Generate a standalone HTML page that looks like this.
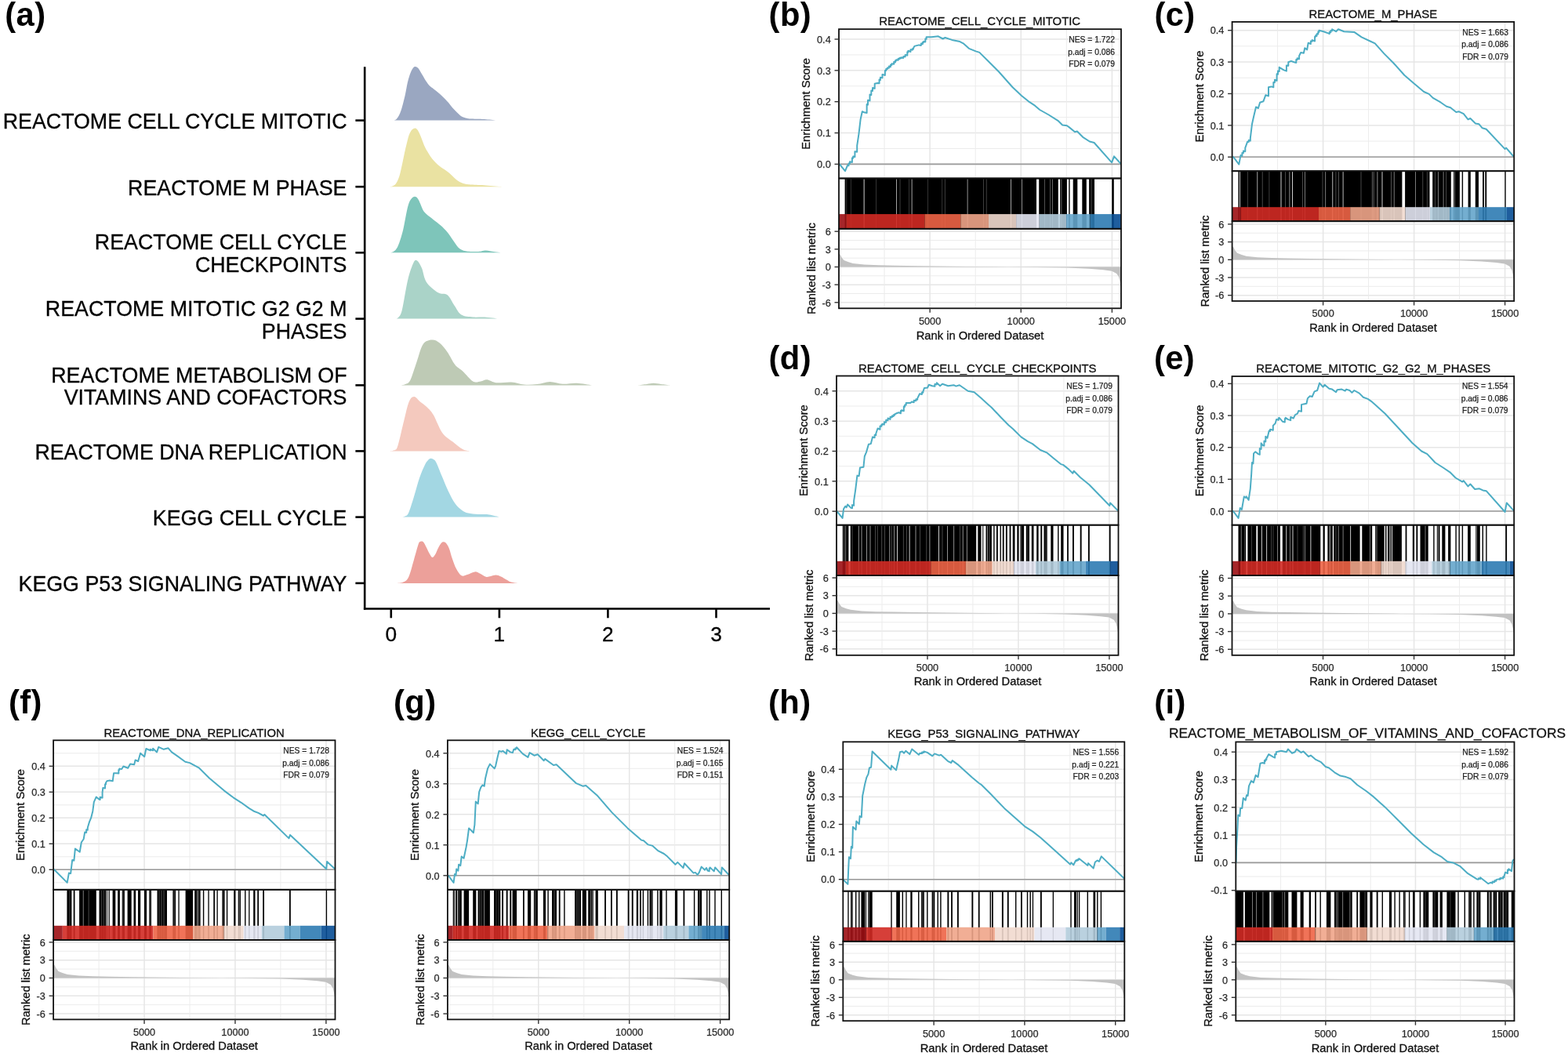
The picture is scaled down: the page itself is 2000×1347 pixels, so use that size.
<!DOCTYPE html>
<html><head><meta charset="utf-8"><title>GSEA figure</title>
<style>html,body{margin:0;padding:0;background:#fff;width:2000px;height:1347px;overflow:hidden}svg{display:block}</style>
</head><body>
<svg width="2000" height="1347" viewBox="0 0 2000 1347" font-family="'Liberation Sans', Arial, Helvetica, sans-serif">
<rect width="2000" height="1347" fill="#fff"/>
<text x="6.3" y="32.5" font-size="41.7" text-anchor="start" font-weight="bold" fill="#000" letter-spacing="0.4">(a)</text>
<text x="980.6" y="32.5" font-size="41.7" text-anchor="start" font-weight="bold" fill="#000" letter-spacing="0.4">(b)</text>
<text x="1472.4" y="32.8" font-size="41.7" text-anchor="start" font-weight="bold" fill="#000" letter-spacing="0.4">(c)</text>
<text x="980.5" y="470.8" font-size="41.7" text-anchor="start" font-weight="bold" fill="#000" letter-spacing="0.4">(d)</text>
<text x="1472" y="471.3" font-size="41.7" text-anchor="start" font-weight="bold" fill="#000" letter-spacing="0.4">(e)</text>
<text x="11" y="909.5" font-size="41.7" text-anchor="start" font-weight="bold" fill="#000" letter-spacing="0.4">(f)</text>
<text x="502" y="909.5" font-size="41.7" text-anchor="start" font-weight="bold" fill="#000" letter-spacing="0.4">(g)</text>
<text x="980" y="909.5" font-size="41.7" text-anchor="start" font-weight="bold" fill="#000" letter-spacing="0.4">(h)</text>
<text x="1472.2" y="909.5" font-size="41.7" text-anchor="start" font-weight="bold" fill="#000" letter-spacing="0.4">(i)</text>
<path d="M502.1,153.6 C502.58,153.43 503.92,153.57 505,152.6 C506.08,151.63 507.52,149.73 508.6,147.8 C509.68,145.87 510.58,143.63 511.5,141 C512.42,138.37 513.18,135.5 514.1,132 C515.02,128.5 516.07,124.33 517,120 C517.93,115.67 518.78,110 519.7,106 C520.62,102 521.57,98.78 522.5,96 C523.43,93.22 524.42,91 525.3,89.3 C526.18,87.6 527.03,86.52 527.8,85.8 C528.57,85.08 529.2,85 529.9,85 C530.6,85 531.23,85.23 532,85.8 C532.77,86.37 533.33,86.7 534.5,88.4 C535.67,90.1 537.45,93.38 539,96 C540.55,98.62 542.3,101.85 543.8,104.1 C545.3,106.35 546.45,107.95 548,109.5 C549.55,111.05 551.1,111.82 553.1,113.4 C555.1,114.98 557.53,116.83 560,119 C562.47,121.17 565.82,124.32 567.9,126.4 C569.98,128.48 570.95,129.65 572.5,131.5 C574.05,133.35 575.45,135.5 577.2,137.5 C578.95,139.5 581.15,141.72 583,143.5 C584.85,145.28 586.47,147.03 588.3,148.2 C590.13,149.37 591.83,149.93 594,150.5 C596.17,151.07 596.98,151.32 601.3,151.6 C605.62,151.88 614.33,151.87 619.9,152.2 C625.47,152.53 632.23,153.37 634.7,153.6 L634.7,153.6 L502.1,153.6 Z" fill="#9AA7C1"/>
<path d="M497.4,238.2 C498,238.05 499.77,237.92 501,237.3 C502.23,236.68 503.67,235.88 504.8,234.5 C505.93,233.12 506.87,231.25 507.8,229 C508.73,226.75 509.5,224.42 510.4,221 C511.3,217.58 512.27,212.83 513.2,208.5 C514.13,204.17 515.07,199.25 516,195 C516.93,190.75 517.88,186.7 518.8,183 C519.72,179.3 520.58,175.47 521.5,172.8 C522.42,170.13 523.37,168.43 524.3,167 C525.23,165.57 526.17,164.78 527.1,164.2 C528.03,163.62 529.08,163.37 529.9,163.5 C530.72,163.63 531.23,164.07 532,165 C532.77,165.93 533.5,167.02 534.5,169.1 C535.5,171.18 536.75,174.42 538,177.5 C539.25,180.58 540.58,184.6 542,187.6 C543.42,190.6 544.97,193.02 546.5,195.5 C548.03,197.98 549.62,200.45 551.2,202.5 C552.78,204.55 554.45,206.25 556,207.8 C557.55,209.35 559,210.6 560.5,211.8 C562,213 563.45,213.93 565,215 C566.55,216.07 568.22,217.03 569.8,218.2 C571.38,219.37 572.95,220.6 574.5,222 C576.05,223.4 577.6,225.22 579.1,226.6 C580.6,227.98 581.97,229.22 583.5,230.3 C585.03,231.38 586.55,232.35 588.3,233.1 C590.05,233.85 591.83,234.38 594,234.8 C596.17,235.22 596.98,235.32 601.3,235.6 C605.62,235.88 613.4,236.07 619.9,236.5 C626.4,236.93 636.9,237.92 640.3,238.2 L640.3,238.2 L497.4,238.2 Z" fill="#EAE2A2"/>
<path d="M498.4,322.2 C499.08,321.92 501.12,321.58 502.5,320.5 C503.88,319.42 505.37,318.12 506.7,315.7 C508.03,313.28 509.27,309.72 510.5,306 C511.73,302.28 513.02,297.9 514.1,293.4 C515.18,288.9 516.07,283.63 517,279 C517.93,274.37 518.87,269.1 519.7,265.6 C520.53,262.1 521.23,259.93 522,258 C522.77,256.07 523.5,255.08 524.3,254 C525.1,252.92 526.02,252.05 526.8,251.5 C527.58,250.95 528.25,250.68 529,250.7 C529.75,250.72 530.53,250.97 531.3,251.6 C532.07,252.23 532.82,253.18 533.6,254.5 C534.38,255.82 535.23,257.75 536,259.5 C536.77,261.25 537.45,263.33 538.2,265 C538.95,266.67 539.57,268.17 540.5,269.5 C541.43,270.83 542.47,271.78 543.8,273 C545.13,274.22 546.95,275.57 548.5,276.8 C550.05,278.03 551.55,279.2 553.1,280.4 C554.65,281.6 556.25,282.77 557.8,284 C559.35,285.23 561,286.55 562.4,287.8 C563.8,289.05 564.97,290.25 566.2,291.5 C567.43,292.75 568.58,293.88 569.8,295.3 C571.02,296.72 572.27,298.3 573.5,300 C574.73,301.7 575.95,303.67 577.2,305.5 C578.45,307.33 579.77,309.3 581,311 C582.23,312.7 583.27,314.4 584.6,315.7 C585.93,317 587.45,318.03 589,318.8 C590.55,319.57 592.07,319.95 593.9,320.3 C595.73,320.65 597.52,320.8 600,320.9 C602.48,321 606.47,320.98 608.8,320.9 C611.13,320.82 612.15,320.62 614,320.4 C615.85,320.18 618.07,319.62 619.9,319.6 C621.73,319.58 623.15,320.03 625,320.3 C626.85,320.57 628.75,320.88 631,321.2 C633.25,321.52 637.25,322.03 638.5,322.2 L638.5,322.2 L498.4,322.2 Z" fill="#7EC5BA"/>
<path d="M503.9,406.6 C504.58,406.33 506.52,406.83 508,405 C509.48,403.17 510.77,403.6 512.8,395.6 C514.83,387.6 517.73,367.15 520.2,357 C522.67,346.85 525.62,338.77 527.6,334.7 C529.58,330.63 530.37,331.37 532.1,332.6 C533.83,333.83 536.02,337.53 538,342.1 C539.98,346.67 540.53,354.8 544,360 C547.47,365.2 554.35,370.58 558.8,373.3 C563.25,376.02 567.23,373.57 570.7,376.3 C574.17,379.03 576.63,385.48 579.6,389.7 C582.57,393.92 584.55,399.13 588.5,401.6 C592.45,404.07 598.35,404.02 603.3,404.5 C608.25,404.98 612.75,404.15 618.2,404.5 C623.65,404.85 633.03,406.25 636,406.6 L636,406.6 L503.9,406.6 Z" fill="#AAD3C8"/>
<path d="M511.8,491.4 C512.67,491.17 515.08,491.08 517,490 C518.92,488.92 520.9,489.57 523.3,484.9 C525.7,480.23 528.68,469.62 531.4,462 C534.12,454.38 536.33,443.93 539.6,439.2 C542.87,434.47 547.47,433.87 551,433.6 C554.53,433.33 557.53,435.03 560.8,437.6 C564.07,440.17 567.33,444.38 570.6,449 C573.87,453.62 577.13,461.22 580.4,465.3 C583.67,469.38 586.38,469.97 590.2,473.5 C594.02,477.03 599.48,484.33 603.3,486.5 C607.12,488.67 610.1,486.87 613.1,486.5 C616.1,486.13 618.03,484.02 621.3,484.3 C624.57,484.58 627.53,487.67 632.7,488.2 C637.87,488.73 646.32,487.1 652.3,487.5 C658.28,487.9 663.15,490.17 668.6,490.6 C674.05,491.03 679.55,490.72 685,490.1 C690.45,489.48 695.87,486.95 701.3,486.9 C706.73,486.85 711.88,489.48 717.6,489.8 C723.32,490.12 729.33,488.53 735.6,488.8 C741.87,489.07 751.93,490.97 755.2,491.4 L755.2,491.4 L511.8,491.4 Z" fill="#BECAB5"/>
<path d="M813.9,491.4 C815.75,491.17 821.73,490.43 825,490 C828.27,489.57 830.5,488.8 833.5,488.8 C836.5,488.8 839.45,489.57 843,490 C846.55,490.43 852.83,491.17 854.8,491.4 L854.8,491.4 L813.9,491.4 Z" fill="#BECAB5"/>
<path d="M497.2,575.4 C498,575.25 500.37,575.43 502,574.5 C503.63,573.57 504.82,576.02 507,569.8 C509.18,563.58 512.67,546.72 515.1,537.2 C517.53,527.68 519.42,517.88 521.6,512.7 C523.78,507.52 525.75,506.1 528.2,506.1 C530.65,506.1 533.58,510.52 536.3,512.7 C539.02,514.88 541.77,516.48 544.5,519.2 C547.23,521.92 549.43,523.55 552.7,529 C555.97,534.45 560.02,546.18 564.1,551.9 C568.18,557.62 572.85,559.77 577.2,563.3 C581.55,566.83 586.57,571.08 590.2,573.1 C593.83,575.12 597.53,575.02 599,575.4 L599,575.4 L497.2,575.4 Z" fill="#F4C9BE"/>
<path d="M511,659.6 C511.83,659.47 514.33,659.63 516,658.8 C517.67,657.97 519,658.82 521,654.6 C523,650.38 525.65,641.02 528,633.5 C530.35,625.98 532.73,616.32 535.1,609.5 C537.47,602.68 540.38,596.35 542.2,592.6 C544.02,588.85 544.83,588.3 546,587 C547.17,585.7 548.12,585 549.2,584.8 C550.28,584.6 551.32,584.98 552.5,585.8 C553.68,586.62 554.48,586.22 556.3,589.7 C558.12,593.18 560.82,600.58 563.4,606.7 C565.98,612.82 568.98,620.53 571.8,626.4 C574.62,632.27 577.48,637.9 580.3,641.9 C583.12,645.9 585.88,648.28 588.7,650.4 C591.52,652.52 593.67,653.67 597.2,654.6 C600.73,655.53 605.43,655.7 609.9,656 C614.37,656.3 619.38,655.8 624,656.4 C628.62,657 635.33,659.07 637.6,659.6 L637.6,659.6 L511,659.6 Z" fill="#A3D7E3"/>
<path d="M507,743.9 C508.17,743.72 511.67,744.03 514,742.8 C516.33,741.57 518.67,741.32 521,736.5 C523.33,731.68 525.88,720.97 528,713.9 C530.12,706.83 532.37,697.92 533.7,694.1 C535.03,690.28 535.28,691.58 536,691 C536.72,690.42 537.25,690.43 538,690.6 C538.75,690.77 539.5,690.68 540.5,692 C541.5,693.32 542.75,696.08 544,698.5 C545.25,700.92 546.77,704.42 548,706.5 C549.23,708.58 550.23,710.83 551.4,711 C552.57,711.17 553.73,709.5 555,707.5 C556.27,705.5 557.67,701.5 559,699 C560.33,696.5 561.8,693.78 563,692.5 C564.2,691.22 565.12,691.13 566.2,691.3 C567.28,691.47 568.37,692.05 569.5,693.5 C570.63,694.95 571.75,696.75 573,700 C574.25,703.25 575.5,708.75 577,713 C578.5,717.25 580.05,721.95 582,725.5 C583.95,729.05 586.37,733.05 588.7,734.3 C591.03,735.55 593.17,733.82 596,733 C598.83,732.18 603.03,729.65 605.7,729.4 C608.37,729.15 609.65,730.43 612,731.5 C614.35,732.57 617.47,735.22 619.8,735.8 C622.13,736.38 623.88,735.37 626,735 C628.12,734.63 630.33,733.52 632.5,733.6 C634.67,733.68 636.75,734.52 639,735.5 C641.25,736.48 643.83,738.33 646,739.5 C648.17,740.67 649.58,741.77 652,742.5 C654.42,743.23 659.08,743.67 660.5,743.9 L660.5,743.9 L507,743.9 Z" fill="#ECA09A"/>
<line x1="465.2" y1="85.2" x2="465.2" y2="777.8" stroke="#000" stroke-width="2.6"/>
<line x1="463.9" y1="776.5" x2="982" y2="776.5" stroke="#000" stroke-width="2.6"/>
<line x1="453.4" y1="153.6" x2="465.2" y2="153.6" stroke="#000" stroke-width="2.6"/>
<text transform="matrix(0.982 0 0 1 442.5 163.9)" font-size="27.3" text-anchor="end" fill="#000" stroke="#000" stroke-width="0.3">REACTOME CELL CYCLE MITOTIC</text>
<line x1="453.4" y1="238.2" x2="465.2" y2="238.2" stroke="#000" stroke-width="2.6"/>
<text transform="matrix(0.982 0 0 1 442.5 248.5)" font-size="27.3" text-anchor="end" fill="#000" stroke="#000" stroke-width="0.3">REACTOME M PHASE</text>
<line x1="453.4" y1="322.3" x2="465.2" y2="322.3" stroke="#000" stroke-width="2.6"/>
<text transform="matrix(0.982 0 0 1 442.5 318.4)" font-size="27.3" text-anchor="end" fill="#000" stroke="#000" stroke-width="0.3">REACTOME CELL CYCLE</text>
<text transform="matrix(0.982 0 0 1 442.5 347.2)" font-size="27.3" text-anchor="end" fill="#000" stroke="#000" stroke-width="0.3">CHECKPOINTS</text>
<line x1="453.4" y1="406.6" x2="465.2" y2="406.6" stroke="#000" stroke-width="2.6"/>
<text transform="matrix(0.982 0 0 1 442.5 402.7)" font-size="27.3" text-anchor="end" fill="#000" stroke="#000" stroke-width="0.3">REACTOME MITOTIC G2 G2 M</text>
<text transform="matrix(0.982 0 0 1 442.5 431.5)" font-size="27.3" text-anchor="end" fill="#000" stroke="#000" stroke-width="0.3">PHASES</text>
<line x1="453.4" y1="491.4" x2="465.2" y2="491.4" stroke="#000" stroke-width="2.6"/>
<text transform="matrix(0.982 0 0 1 442.5 487.5)" font-size="27.3" text-anchor="end" fill="#000" stroke="#000" stroke-width="0.3">REACTOME METABOLISM OF</text>
<text transform="matrix(0.982 0 0 1 442.5 516.3)" font-size="27.3" text-anchor="end" fill="#000" stroke="#000" stroke-width="0.3">VITAMINS AND COFACTORS</text>
<line x1="453.4" y1="575.4" x2="465.2" y2="575.4" stroke="#000" stroke-width="2.6"/>
<text transform="matrix(0.982 0 0 1 442.5 585.7)" font-size="27.3" text-anchor="end" fill="#000" stroke="#000" stroke-width="0.3">REACTOME DNA REPLICATION</text>
<line x1="453.4" y1="659.6" x2="465.2" y2="659.6" stroke="#000" stroke-width="2.6"/>
<text transform="matrix(0.982 0 0 1 442.5 669.9)" font-size="27.3" text-anchor="end" fill="#000" stroke="#000" stroke-width="0.3">KEGG CELL CYCLE</text>
<line x1="453.4" y1="743.9" x2="465.2" y2="743.9" stroke="#000" stroke-width="2.6"/>
<text transform="matrix(0.982 0 0 1 442.5 754.2)" font-size="27.3" text-anchor="end" fill="#000" stroke="#000" stroke-width="0.3">KEGG P53 SIGNALING PATHWAY</text>
<line x1="498.8" y1="776.5" x2="498.8" y2="788.3" stroke="#000" stroke-width="2.6"/>
<text x="498.8" y="818.3" font-size="26.3" text-anchor="middle" font-weight="normal" fill="#000" stroke="#000" stroke-width="0.3">0</text>
<line x1="636.9" y1="776.5" x2="636.9" y2="788.3" stroke="#000" stroke-width="2.6"/>
<text x="636.9" y="818.3" font-size="26.3" text-anchor="middle" font-weight="normal" fill="#000" stroke="#000" stroke-width="0.3">1</text>
<line x1="775.4" y1="776.5" x2="775.4" y2="788.3" stroke="#000" stroke-width="2.6"/>
<text x="775.4" y="818.3" font-size="26.3" text-anchor="middle" font-weight="normal" fill="#000" stroke="#000" stroke-width="0.3">2</text>
<line x1="913.5" y1="776.5" x2="913.5" y2="788.3" stroke="#000" stroke-width="2.6"/>
<text x="913.5" y="818.3" font-size="26.3" text-anchor="middle" font-weight="normal" fill="#000" stroke="#000" stroke-width="0.3">3</text>
<rect x="1070" y="37.2" width="360" height="356.1" fill="#fff"/>
<clipPath id="clipb"><rect x="1070" y="37.2" width="360" height="190.3"/></clipPath>
<g clip-path="url(#clipb)">
<line x1="1070" y1="209.4" x2="1430" y2="209.4" stroke="#E6E6E6" stroke-width="1.5"/>
<line x1="1070" y1="189.47" x2="1430" y2="189.47" stroke="#ECECEC" stroke-width="1.0"/>
<line x1="1070" y1="169.55" x2="1430" y2="169.55" stroke="#E6E6E6" stroke-width="1.5"/>
<line x1="1070" y1="149.62" x2="1430" y2="149.62" stroke="#ECECEC" stroke-width="1.0"/>
<line x1="1070" y1="129.7" x2="1430" y2="129.7" stroke="#E6E6E6" stroke-width="1.5"/>
<line x1="1070" y1="109.78" x2="1430" y2="109.78" stroke="#ECECEC" stroke-width="1.0"/>
<line x1="1070" y1="89.85" x2="1430" y2="89.85" stroke="#E6E6E6" stroke-width="1.5"/>
<line x1="1070" y1="69.93" x2="1430" y2="69.93" stroke="#ECECEC" stroke-width="1.0"/>
<line x1="1070" y1="50" x2="1430" y2="50" stroke="#E6E6E6" stroke-width="1.5"/>
<line x1="1128.06" y1="37.2" x2="1128.06" y2="227.5" stroke="#ECECEC" stroke-width="1.0"/>
<line x1="1186.13" y1="37.2" x2="1186.13" y2="227.5" stroke="#E6E6E6" stroke-width="1.5"/>
<line x1="1244.19" y1="37.2" x2="1244.19" y2="227.5" stroke="#ECECEC" stroke-width="1.0"/>
<line x1="1302.26" y1="37.2" x2="1302.26" y2="227.5" stroke="#E6E6E6" stroke-width="1.5"/>
<line x1="1360.32" y1="37.2" x2="1360.32" y2="227.5" stroke="#ECECEC" stroke-width="1.0"/>
<line x1="1418.39" y1="37.2" x2="1418.39" y2="227.5" stroke="#E6E6E6" stroke-width="1.5"/>
<line x1="1070" y1="209.4" x2="1430" y2="209.4" stroke="#9A9A9A" stroke-width="1.6"/>
<polyline points="1070.8,209.5 1078,218.2 1081,211 1082.49,211.24 1082.49,208.6 1083.92,208.84 1083.92,206.29 1086.91,206.97 1086.91,201.48 1088.2,201.81 1088.2,199.4 1090.41,200.22 1090.41,193.31 1093.2,193.85 1093.2,185.6 1095.4,171.1 1097.6,152.3 1099.8,142.2 1103,143.6 1105.64,144.1 1105.64,133.09 1107,133.68 1107,127.7 1109.48,128.54 1109.48,120.6 1111.3,121.21 1111.3,115.4 1113.03,116 1113.03,111.97 1115.7,112.89 1115.7,106.7 1119.3,106 1121.52,106.35 1121.52,101.5 1122.9,102.09 1122.9,98.7 1125.46,99.38 1125.46,94.91 1128.86,95.96 1128.86,89.88 1130.2,90.06 1130.2,87.9 1131.79,88.16 1131.79,86.44 1133.89,86.82 1133.89,84.52 1135.93,85.3 1135.93,82.65 1137.4,83.02 1137.4,81.3 1140.22,81.84 1140.22,78.87 1141.96,79.47 1141.96,77.37 1143.2,77.6 1143.2,76.3 1145.67,76.8 1145.67,74.86 1147.5,75.32 1147.5,73.8 1149.36,74.35 1149.36,73.19 1152.14,74.03 1152.14,72.28 1153.3,72.57 1153.3,71.9 1154.65,72.4 1154.65,69.99 1157.3,70.64 1157.3,66.25 1158.4,66.71 1158.4,64.7 1161.43,66.08 1161.43,63.35 1163.76,63.69 1163.76,62.31 1164.9,62.75 1164.9,61.8 1166.4,58.9 1172.2,57.4 1174.89,57.92 1174.89,55.4 1176.8,56.26 1176.8,53.99 1178,54.17 1178,53.1 1180.31,53.42 1180.31,49.38 1181.6,49.84 1181.6,47.3 1188.1,47.3 1196.8,46.3 1202.6,49.5 1205.5,48 1214.2,50.9 1224.3,53.1 1228.6,55.3 1235.9,61.8 1244.6,65.4 1249.3,66.9 1259.5,77 1274,91.5 1291.3,111 1302.9,121.9 1311.6,129.1 1320.3,134.9 1326.1,140 1337.7,146.5 1349.3,153.8 1355.1,159.5 1360.9,160.3 1363.8,162.4 1371,168.2 1373.9,167.5 1381.1,174.8 1389.8,180.5 1395.6,182 1418.1,207.3 1421,199.4 1429.5,208.8" fill="none" stroke="#4DADC4" stroke-width="2.0" stroke-linejoin="round"/>
</g>
<text x="1422" y="54" font-size="10.3" text-anchor="end" font-weight="normal" fill="#222" stroke="#222" stroke-width="0.25">NES = 1.722</text>
<text x="1422" y="69.5" font-size="10.3" text-anchor="end" font-weight="normal" fill="#222" stroke="#222" stroke-width="0.25">p.adj = 0.086</text>
<text x="1422" y="85" font-size="10.3" text-anchor="end" font-weight="normal" fill="#222" stroke="#222" stroke-width="0.25">FDR = 0.079</text>
<rect x="1077.6" y="227.5" width="244.4" height="64.3" fill="#000"/>
<rect x="1325.2" y="227.5" width="24.6" height="64.3" fill="#000"/>
<rect x="1352.1" y="227.5" width="8.8" height="64.3" fill="#000"/>
<rect x="1363.2" y="227.5" width="1.4" height="64.3" fill="#000"/>
<rect x="1368.7" y="227.5" width="5.6" height="64.3" fill="#000"/>
<rect x="1380.3" y="227.5" width="5.5" height="64.3" fill="#000"/>
<rect x="1389.1" y="227.5" width="6.9" height="64.3" fill="#000"/>
<rect x="1418.2" y="227.5" width="2.6" height="64.3" fill="#000"/>
<rect x="1101.7" y="227.5" width="0.8" height="64.3" fill="#fff" fill-opacity="1"/>
<rect x="1143.1" y="227.5" width="0.8" height="64.3" fill="#fff" fill-opacity="0.8"/>
<rect x="1162.7" y="227.5" width="0.8" height="64.3" fill="#fff" fill-opacity="0.8"/>
<rect x="1233.7" y="227.5" width="0.8" height="64.3" fill="#fff" fill-opacity="0.7"/>
<rect x="1289.2" y="227.5" width="0.8" height="64.3" fill="#fff" fill-opacity="0.8"/>
<rect x="1303.1" y="227.5" width="0.8" height="64.3" fill="#fff" fill-opacity="0.7"/>
<rect x="1079.4" y="227.5" width="0.8" height="64.3" fill="#fff" fill-opacity="0.25"/>
<rect x="1084.9" y="227.5" width="0.8" height="64.3" fill="#fff" fill-opacity="0.25"/>
<rect x="1117.2" y="227.5" width="0.8" height="64.3" fill="#fff" fill-opacity="0.25"/>
<rect x="1147.6" y="227.5" width="0.8" height="64.3" fill="#fff" fill-opacity="0.3"/>
<rect x="1159.1" y="227.5" width="0.8" height="64.3" fill="#fff" fill-opacity="0.25"/>
<rect x="1183.2" y="227.5" width="0.8" height="64.3" fill="#fff" fill-opacity="0.25"/>
<rect x="1201.3" y="227.5" width="0.8" height="64.3" fill="#fff" fill-opacity="0.25"/>
<rect x="1204.9" y="227.5" width="0.8" height="64.3" fill="#fff" fill-opacity="0.3"/>
<rect x="1254.1" y="227.5" width="0.8" height="64.3" fill="#fff" fill-opacity="0.3"/>
<rect x="1257.8" y="227.5" width="0.8" height="64.3" fill="#fff" fill-opacity="0.3"/>
<rect x="1332.2" y="227.5" width="0.8" height="64.3" fill="#fff" fill-opacity="0.4"/>
<rect x="1339.2" y="227.5" width="0.8" height="64.3" fill="#fff" fill-opacity="0.4"/>
<rect x="1342" y="227.5" width="0.8" height="64.3" fill="#fff" fill-opacity="0.5"/>
<rect x="1353.5" y="227.5" width="0.8" height="64.3" fill="#fff" fill-opacity="0.5"/>
<rect x="1391.6" y="227.5" width="0.8" height="64.3" fill="#fff" fill-opacity="0.4"/>
<rect x="1070" y="273.1" width="9.4" height="18.7" fill="#9C0E13" fill-opacity="0.9"/>
<rect x="1079.4" y="273.1" width="100.1" height="18.7" fill="#D22A24" fill-opacity="0.9"/>
<rect x="1179.5" y="273.1" width="45.9" height="18.7" fill="#EE6446" fill-opacity="0.9"/>
<rect x="1225.4" y="273.1" width="35.6" height="18.7" fill="#EFA589" fill-opacity="0.9"/>
<rect x="1261" y="273.1" width="35.1" height="18.7" fill="#F1D9CE" fill-opacity="0.9"/>
<rect x="1296.1" y="273.1" width="29.6" height="18.7" fill="#E3E6F2" fill-opacity="0.9"/>
<rect x="1325.7" y="273.1" width="34.3" height="18.7" fill="#B3CCDB" fill-opacity="0.9"/>
<rect x="1360" y="273.1" width="30.5" height="18.7" fill="#65A5CB" fill-opacity="0.9"/>
<rect x="1390.5" y="273.1" width="27.7" height="18.7" fill="#2E7BB3" fill-opacity="0.9"/>
<rect x="1418.2" y="273.1" width="11.8" height="18.7" fill="#074C94" fill-opacity="0.9"/>
<line x1="1070" y1="385.8" x2="1430" y2="385.8" stroke="#E6E6E6" stroke-width="1.5"/>
<line x1="1070" y1="374.48" x2="1430" y2="374.48" stroke="#ECECEC" stroke-width="1.0"/>
<line x1="1070" y1="363.15" x2="1430" y2="363.15" stroke="#E6E6E6" stroke-width="1.5"/>
<line x1="1070" y1="351.82" x2="1430" y2="351.82" stroke="#ECECEC" stroke-width="1.0"/>
<line x1="1070" y1="340.5" x2="1430" y2="340.5" stroke="#E6E6E6" stroke-width="1.5"/>
<line x1="1070" y1="329.18" x2="1430" y2="329.18" stroke="#ECECEC" stroke-width="1.0"/>
<line x1="1070" y1="317.85" x2="1430" y2="317.85" stroke="#E6E6E6" stroke-width="1.5"/>
<line x1="1070" y1="306.52" x2="1430" y2="306.52" stroke="#ECECEC" stroke-width="1.0"/>
<line x1="1070" y1="295.2" x2="1430" y2="295.2" stroke="#E6E6E6" stroke-width="1.5"/>
<line x1="1128.06" y1="291.8" x2="1128.06" y2="393.3" stroke="#ECECEC" stroke-width="1.0"/>
<line x1="1186.13" y1="291.8" x2="1186.13" y2="393.3" stroke="#E6E6E6" stroke-width="1.5"/>
<line x1="1244.19" y1="291.8" x2="1244.19" y2="393.3" stroke="#ECECEC" stroke-width="1.0"/>
<line x1="1302.26" y1="291.8" x2="1302.26" y2="393.3" stroke="#E6E6E6" stroke-width="1.5"/>
<line x1="1360.32" y1="291.8" x2="1360.32" y2="393.3" stroke="#ECECEC" stroke-width="1.0"/>
<line x1="1418.39" y1="291.8" x2="1418.39" y2="393.3" stroke="#E6E6E6" stroke-width="1.5"/>
<path d="M1070,340.5 L1070,323.13 L1071.8,324.64 L1073.6,328.42 L1076.48,332.04 L1082.24,334.31 L1088,335.97 L1102.4,337.56 L1120.4,338.24 L1142,338.69 L1170.8,339.14 L1232,339.9 L1286,340.5 L1322,340.88 L1360.88,341.56 L1388.96,342.76 L1407.32,344.27 L1418.12,345.63 L1424.24,348.96 L1427.12,353.33 L1428.56,359.38 L1430,366.17 L1430,340.5 Z" fill="#C2C2C2"/>
<rect x="1070" y="37.2" width="360" height="190.3" fill="none" stroke="#111" stroke-width="1.8"/>
<rect x="1070" y="227.5" width="360" height="64.3" fill="none" stroke="#111" stroke-width="1.8"/>
<rect x="1070" y="291.8" width="360" height="101.5" fill="none" stroke="#111" stroke-width="1.8"/>
<line x1="1064.5" y1="209.4" x2="1070" y2="209.4" stroke="#333" stroke-width="1.4"/>
<text x="1059.7" y="214.1" font-size="12.7" text-anchor="end" font-weight="normal" fill="#2a2a2a" stroke="#2a2a2a" stroke-width="0.25">0.0</text>
<line x1="1064.5" y1="169.55" x2="1070" y2="169.55" stroke="#333" stroke-width="1.4"/>
<text x="1059.7" y="174.25" font-size="12.7" text-anchor="end" font-weight="normal" fill="#2a2a2a" stroke="#2a2a2a" stroke-width="0.25">0.1</text>
<line x1="1064.5" y1="129.7" x2="1070" y2="129.7" stroke="#333" stroke-width="1.4"/>
<text x="1059.7" y="134.4" font-size="12.7" text-anchor="end" font-weight="normal" fill="#2a2a2a" stroke="#2a2a2a" stroke-width="0.25">0.2</text>
<line x1="1064.5" y1="89.85" x2="1070" y2="89.85" stroke="#333" stroke-width="1.4"/>
<text x="1059.7" y="94.55" font-size="12.7" text-anchor="end" font-weight="normal" fill="#2a2a2a" stroke="#2a2a2a" stroke-width="0.25">0.3</text>
<line x1="1064.5" y1="50" x2="1070" y2="50" stroke="#333" stroke-width="1.4"/>
<text x="1059.7" y="54.7" font-size="12.7" text-anchor="end" font-weight="normal" fill="#2a2a2a" stroke="#2a2a2a" stroke-width="0.25">0.4</text>
<line x1="1064.5" y1="295.2" x2="1070" y2="295.2" stroke="#333" stroke-width="1.4"/>
<text x="1059.7" y="299.9" font-size="12.7" text-anchor="end" font-weight="normal" fill="#2a2a2a" stroke="#2a2a2a" stroke-width="0.25">6</text>
<line x1="1064.5" y1="317.85" x2="1070" y2="317.85" stroke="#333" stroke-width="1.4"/>
<text x="1059.7" y="322.55" font-size="12.7" text-anchor="end" font-weight="normal" fill="#2a2a2a" stroke="#2a2a2a" stroke-width="0.25">3</text>
<line x1="1064.5" y1="340.5" x2="1070" y2="340.5" stroke="#333" stroke-width="1.4"/>
<text x="1059.7" y="345.2" font-size="12.7" text-anchor="end" font-weight="normal" fill="#2a2a2a" stroke="#2a2a2a" stroke-width="0.25">0</text>
<line x1="1064.5" y1="363.15" x2="1070" y2="363.15" stroke="#333" stroke-width="1.4"/>
<text x="1059.7" y="367.85" font-size="12.7" text-anchor="end" font-weight="normal" fill="#2a2a2a" stroke="#2a2a2a" stroke-width="0.25">-3</text>
<line x1="1064.5" y1="385.8" x2="1070" y2="385.8" stroke="#333" stroke-width="1.4"/>
<text x="1059.7" y="390.5" font-size="12.7" text-anchor="end" font-weight="normal" fill="#2a2a2a" stroke="#2a2a2a" stroke-width="0.25">-6</text>
<line x1="1186.13" y1="393.3" x2="1186.13" y2="398.8" stroke="#333" stroke-width="1.4"/>
<text x="1186.13" y="413.8" font-size="12.7" text-anchor="middle" font-weight="normal" fill="#2a2a2a" stroke="#2a2a2a" stroke-width="0.25">5000</text>
<line x1="1302.26" y1="393.3" x2="1302.26" y2="398.8" stroke="#333" stroke-width="1.4"/>
<text x="1302.26" y="413.8" font-size="12.7" text-anchor="middle" font-weight="normal" fill="#2a2a2a" stroke="#2a2a2a" stroke-width="0.25">10000</text>
<line x1="1418.39" y1="393.3" x2="1418.39" y2="398.8" stroke="#333" stroke-width="1.4"/>
<text x="1418.39" y="413.8" font-size="12.7" text-anchor="middle" font-weight="normal" fill="#2a2a2a" stroke="#2a2a2a" stroke-width="0.25">15000</text>
<text x="1249.7" y="32.4" font-size="14.9" text-anchor="middle" font-weight="normal" fill="#111" stroke="#111" stroke-width="0.3">REACTOME<tspan dy="0.5">_</tspan><tspan dy="-0.5">CELL</tspan><tspan dy="0.5">_</tspan><tspan dy="-0.5">CYCLE</tspan><tspan dy="0.5">_</tspan><tspan dy="-0.5">MITOTIC</tspan></text>
<text x="1250" y="432.9" font-size="14.7" text-anchor="middle" font-weight="normal" fill="#111" stroke="#111" stroke-width="0.3">Rank in Ordered Dataset</text>
<text x="1033.5" y="132.35" font-size="14.7" text-anchor="middle" font-weight="normal" fill="#111" stroke="#111" stroke-width="0.3" transform="rotate(-90 1033.5 132.35)">Enrichment Score</text>
<text x="1040" y="342.55" font-size="14.7" text-anchor="middle" font-weight="normal" fill="#111" stroke="#111" stroke-width="0.3" transform="rotate(-90 1040 342.55)">Ranked list metric</text>
<rect x="1571.6" y="27.9" width="359.6" height="356.1" fill="#fff"/>
<clipPath id="clipc"><rect x="1571.6" y="27.9" width="359.6" height="190.3"/></clipPath>
<g clip-path="url(#clipc)">
<line x1="1571.6" y1="200.3" x2="1931.2" y2="200.3" stroke="#E6E6E6" stroke-width="1.5"/>
<line x1="1571.6" y1="180.1" x2="1931.2" y2="180.1" stroke="#ECECEC" stroke-width="1.0"/>
<line x1="1571.6" y1="159.9" x2="1931.2" y2="159.9" stroke="#E6E6E6" stroke-width="1.5"/>
<line x1="1571.6" y1="139.7" x2="1931.2" y2="139.7" stroke="#ECECEC" stroke-width="1.0"/>
<line x1="1571.6" y1="119.5" x2="1931.2" y2="119.5" stroke="#E6E6E6" stroke-width="1.5"/>
<line x1="1571.6" y1="99.3" x2="1931.2" y2="99.3" stroke="#ECECEC" stroke-width="1.0"/>
<line x1="1571.6" y1="79.1" x2="1931.2" y2="79.1" stroke="#E6E6E6" stroke-width="1.5"/>
<line x1="1571.6" y1="58.9" x2="1931.2" y2="58.9" stroke="#ECECEC" stroke-width="1.0"/>
<line x1="1571.6" y1="38.7" x2="1931.2" y2="38.7" stroke="#E6E6E6" stroke-width="1.5"/>
<line x1="1629.6" y1="27.9" x2="1629.6" y2="218.2" stroke="#ECECEC" stroke-width="1.0"/>
<line x1="1687.6" y1="27.9" x2="1687.6" y2="218.2" stroke="#E6E6E6" stroke-width="1.5"/>
<line x1="1745.6" y1="27.9" x2="1745.6" y2="218.2" stroke="#ECECEC" stroke-width="1.0"/>
<line x1="1803.6" y1="27.9" x2="1803.6" y2="218.2" stroke="#E6E6E6" stroke-width="1.5"/>
<line x1="1861.6" y1="27.9" x2="1861.6" y2="218.2" stroke="#ECECEC" stroke-width="1.0"/>
<line x1="1919.6" y1="27.9" x2="1919.6" y2="218.2" stroke="#E6E6E6" stroke-width="1.5"/>
<line x1="1571.6" y1="200.3" x2="1931.2" y2="200.3" stroke="#9A9A9A" stroke-width="1.6"/>
<polyline points="1572,200.3 1573.1,200.2 1580.3,209.6 1582.5,198.1 1584.39,198.95 1584.39,195.01 1585.94,195.32 1585.94,192.47 1588.3,193.18 1588.3,188.6 1591.2,180.7 1592.77,180.92 1592.77,178.78 1594.8,179.65 1594.8,176.3 1597,158.2 1599.1,148.8 1602,136.5 1604.9,138 1607.1,130.7 1611.4,129.3 1614.3,121.3 1618,122.42 1618,111.2 1621.6,110.4 1624.33,111.32 1624.33,104.93 1625.9,105.22 1625.9,101.8 1628.62,102.9 1628.62,94.28 1629.98,94.78 1629.98,90.54 1631.7,91.12 1631.7,85.8 1637.5,89.4 1640.91,90.68 1640.91,83.46 1643.3,83.92 1643.3,79.3 1646.9,77.9 1650.5,79.3 1653.29,80.06 1653.29,75.92 1654.67,76.2 1654.67,74.24 1657.1,75.3 1657.1,71.3 1659.2,67 1662.9,67.7 1664.3,61.2 1667.2,63.4 1668.7,54.7 1671.84,56.01 1671.84,52.44 1673.7,52.69 1673.7,51.1 1677.08,52.46 1677.08,46.64 1678.1,46.85 1678.1,45.3 1679.53,45.91 1679.53,43.14 1681.31,43.41 1681.31,40.44 1682.4,40.95 1682.4,38.8 1688.2,40.2 1694,42.4 1695.75,43.13 1695.75,40.65 1697.39,41.21 1697.39,39.01 1699.1,39.31 1699.1,37.3 1704.1,40.2 1707,37.3 1714.3,40.2 1727.3,40.9 1736.7,47.4 1747.6,52.5 1753.8,55.4 1765.4,68.4 1777,80 1791.4,96 1803,106.1 1816.1,117 1822.6,119.9 1827.7,124.9 1837.8,130.7 1845,135.8 1850.1,137.2 1857.3,143 1861,142.3 1866.8,145.2 1872.5,152.4 1875.4,151 1882,157.5 1886.3,158.2 1890.7,163.3 1895.7,164.8 1919.6,190.1 1921.1,188.6 1930.5,199.5" fill="none" stroke="#4DADC4" stroke-width="2.0" stroke-linejoin="round"/>
</g>
<text x="1924" y="44.7" font-size="10.3" text-anchor="end" font-weight="normal" fill="#222" stroke="#222" stroke-width="0.25">NES = 1.663</text>
<text x="1924" y="60.2" font-size="10.3" text-anchor="end" font-weight="normal" fill="#222" stroke="#222" stroke-width="0.25">p.adj = 0.086</text>
<text x="1924" y="75.7" font-size="10.3" text-anchor="end" font-weight="normal" fill="#222" stroke="#222" stroke-width="0.25">FDR = 0.079</text>
<rect x="1579.5" y="218.2" width="208.9" height="64" fill="#000"/>
<rect x="1792.1" y="218.2" width="31.4" height="64" fill="#000"/>
<rect x="1827.2" y="218.2" width="23.6" height="64" fill="#000"/>
<rect x="1854.1" y="218.2" width="7.8" height="64" fill="#000"/>
<rect x="1864.7" y="218.2" width="1.4" height="64" fill="#000"/>
<rect x="1872.6" y="218.2" width="3.2" height="64" fill="#000"/>
<rect x="1881.8" y="218.2" width="4.2" height="64" fill="#000"/>
<rect x="1891.1" y="218.2" width="1.8" height="64" fill="#000"/>
<rect x="1894.3" y="218.2" width="1.9" height="64" fill="#000"/>
<rect x="1919.3" y="218.2" width="1.4" height="64" fill="#000"/>
<rect x="1581" y="218.2" width="0.8" height="64" fill="#fff" fill-opacity="1"/>
<rect x="1591" y="218.2" width="0.8" height="64" fill="#fff" fill-opacity="0.3"/>
<rect x="1603.4" y="218.2" width="0.8" height="64" fill="#fff" fill-opacity="0.8"/>
<rect x="1609.8" y="218.2" width="0.8" height="64" fill="#fff" fill-opacity="0.35"/>
<rect x="1618.5" y="218.2" width="0.8" height="64" fill="#fff" fill-opacity="0.3"/>
<rect x="1633.6" y="218.2" width="0.8" height="64" fill="#fff" fill-opacity="1"/>
<rect x="1639" y="218.2" width="0.8" height="64" fill="#fff" fill-opacity="0.35"/>
<rect x="1644.5" y="218.2" width="0.8" height="64" fill="#fff" fill-opacity="0.7"/>
<rect x="1648.2" y="218.2" width="0.8" height="64" fill="#fff" fill-opacity="1"/>
<rect x="1661" y="218.2" width="0.8" height="64" fill="#fff" fill-opacity="0.35"/>
<rect x="1664.2" y="218.2" width="0.8" height="64" fill="#fff" fill-opacity="0.6"/>
<rect x="1686.6" y="218.2" width="0.8" height="64" fill="#fff" fill-opacity="0.35"/>
<rect x="1690.3" y="218.2" width="0.8" height="64" fill="#fff" fill-opacity="0.6"/>
<rect x="1699.4" y="218.2" width="0.8" height="64" fill="#fff" fill-opacity="0.9"/>
<rect x="1703.5" y="218.2" width="0.8" height="64" fill="#fff" fill-opacity="0.35"/>
<rect x="1707.2" y="218.2" width="0.8" height="64" fill="#fff" fill-opacity="0.4"/>
<rect x="1712.7" y="218.2" width="0.8" height="64" fill="#fff" fill-opacity="0.9"/>
<rect x="1735.6" y="218.2" width="0.8" height="64" fill="#fff" fill-opacity="0.35"/>
<rect x="1749.8" y="218.2" width="0.8" height="64" fill="#fff" fill-opacity="0.4"/>
<rect x="1751.1" y="218.2" width="0.8" height="64" fill="#fff" fill-opacity="0.3"/>
<rect x="1752.6" y="218.2" width="0.8" height="64" fill="#fff" fill-opacity="0.3"/>
<rect x="1756.5" y="218.2" width="0.8" height="64" fill="#fff" fill-opacity="0.7"/>
<rect x="1762.6" y="218.2" width="0.8" height="64" fill="#fff" fill-opacity="1"/>
<rect x="1774.1" y="218.2" width="0.8" height="64" fill="#fff" fill-opacity="0.4"/>
<rect x="1777.8" y="218.2" width="0.8" height="64" fill="#fff" fill-opacity="0.6"/>
<rect x="1805.1" y="218.2" width="0.8" height="64" fill="#fff" fill-opacity="0.6"/>
<rect x="1814.4" y="218.2" width="0.8" height="64" fill="#fff" fill-opacity="0.35"/>
<rect x="1819.9" y="218.2" width="0.8" height="64" fill="#fff" fill-opacity="0.3"/>
<rect x="1830.1" y="218.2" width="0.8" height="64" fill="#fff" fill-opacity="0.35"/>
<rect x="1834.2" y="218.2" width="0.8" height="64" fill="#fff" fill-opacity="0.6"/>
<rect x="1840.7" y="218.2" width="0.8" height="64" fill="#fff" fill-opacity="0.6"/>
<rect x="1844" y="218.2" width="0.8" height="64" fill="#fff" fill-opacity="0.35"/>
<rect x="1855.1" y="218.2" width="0.8" height="64" fill="#fff" fill-opacity="0.5"/>
<rect x="1571.6" y="264.2" width="11.1" height="18" fill="#9C0E13" fill-opacity="0.9"/>
<rect x="1582.7" y="264.2" width="99.3" height="18" fill="#D22A24" fill-opacity="0.9"/>
<rect x="1682" y="264.2" width="40.2" height="18" fill="#EE6446" fill-opacity="0.9"/>
<rect x="1722.2" y="264.2" width="37.5" height="18" fill="#EFA589" fill-opacity="0.9"/>
<rect x="1759.7" y="264.2" width="32.9" height="18" fill="#F1D9CE" fill-opacity="0.9"/>
<rect x="1792.6" y="264.2" width="31.4" height="18" fill="#E3E6F2" fill-opacity="0.9"/>
<rect x="1824" y="264.2" width="25" height="18" fill="#B3CCDB" fill-opacity="0.9"/>
<rect x="1849" y="264.2" width="37" height="18" fill="#65A5CB" fill-opacity="0.9"/>
<rect x="1886" y="264.2" width="36" height="18" fill="#2E7BB3" fill-opacity="0.9"/>
<rect x="1922" y="264.2" width="9.2" height="18" fill="#074C94" fill-opacity="0.9"/>
<line x1="1571.6" y1="376.66" x2="1931.2" y2="376.66" stroke="#E6E6E6" stroke-width="1.5"/>
<line x1="1571.6" y1="365.32" x2="1931.2" y2="365.32" stroke="#ECECEC" stroke-width="1.0"/>
<line x1="1571.6" y1="353.98" x2="1931.2" y2="353.98" stroke="#E6E6E6" stroke-width="1.5"/>
<line x1="1571.6" y1="342.64" x2="1931.2" y2="342.64" stroke="#ECECEC" stroke-width="1.0"/>
<line x1="1571.6" y1="331.3" x2="1931.2" y2="331.3" stroke="#E6E6E6" stroke-width="1.5"/>
<line x1="1571.6" y1="319.96" x2="1931.2" y2="319.96" stroke="#ECECEC" stroke-width="1.0"/>
<line x1="1571.6" y1="308.62" x2="1931.2" y2="308.62" stroke="#E6E6E6" stroke-width="1.5"/>
<line x1="1571.6" y1="297.28" x2="1931.2" y2="297.28" stroke="#ECECEC" stroke-width="1.0"/>
<line x1="1571.6" y1="285.94" x2="1931.2" y2="285.94" stroke="#E6E6E6" stroke-width="1.5"/>
<line x1="1629.6" y1="282.2" x2="1629.6" y2="384" stroke="#ECECEC" stroke-width="1.0"/>
<line x1="1687.6" y1="282.2" x2="1687.6" y2="384" stroke="#E6E6E6" stroke-width="1.5"/>
<line x1="1745.6" y1="282.2" x2="1745.6" y2="384" stroke="#ECECEC" stroke-width="1.0"/>
<line x1="1803.6" y1="282.2" x2="1803.6" y2="384" stroke="#E6E6E6" stroke-width="1.5"/>
<line x1="1861.6" y1="282.2" x2="1861.6" y2="384" stroke="#ECECEC" stroke-width="1.0"/>
<line x1="1919.6" y1="282.2" x2="1919.6" y2="384" stroke="#E6E6E6" stroke-width="1.5"/>
<path d="M1571.6,331.3 L1571.6,313.91 L1573.4,315.42 L1575.2,319.2 L1578.07,322.83 L1583.83,325.1 L1589.58,326.76 L1603.96,328.35 L1621.94,329.03 L1643.52,329.49 L1672.29,329.94 L1733.42,330.7 L1787.36,331.3 L1823.32,331.68 L1862.16,332.36 L1890.21,333.57 L1908.55,335.08 L1919.33,336.44 L1925.45,339.77 L1928.32,344.15 L1929.76,350.2 L1931.2,357 L1931.2,331.3 Z" fill="#C2C2C2"/>
<rect x="1571.6" y="27.9" width="359.6" height="190.3" fill="none" stroke="#111" stroke-width="1.8"/>
<rect x="1571.6" y="218.2" width="359.6" height="64" fill="none" stroke="#111" stroke-width="1.8"/>
<rect x="1571.6" y="282.2" width="359.6" height="101.8" fill="none" stroke="#111" stroke-width="1.8"/>
<line x1="1566.1" y1="200.3" x2="1571.6" y2="200.3" stroke="#333" stroke-width="1.4"/>
<text x="1561.3" y="205" font-size="12.7" text-anchor="end" font-weight="normal" fill="#2a2a2a" stroke="#2a2a2a" stroke-width="0.25">0.0</text>
<line x1="1566.1" y1="159.9" x2="1571.6" y2="159.9" stroke="#333" stroke-width="1.4"/>
<text x="1561.3" y="164.6" font-size="12.7" text-anchor="end" font-weight="normal" fill="#2a2a2a" stroke="#2a2a2a" stroke-width="0.25">0.1</text>
<line x1="1566.1" y1="119.5" x2="1571.6" y2="119.5" stroke="#333" stroke-width="1.4"/>
<text x="1561.3" y="124.2" font-size="12.7" text-anchor="end" font-weight="normal" fill="#2a2a2a" stroke="#2a2a2a" stroke-width="0.25">0.2</text>
<line x1="1566.1" y1="79.1" x2="1571.6" y2="79.1" stroke="#333" stroke-width="1.4"/>
<text x="1561.3" y="83.8" font-size="12.7" text-anchor="end" font-weight="normal" fill="#2a2a2a" stroke="#2a2a2a" stroke-width="0.25">0.3</text>
<line x1="1566.1" y1="38.7" x2="1571.6" y2="38.7" stroke="#333" stroke-width="1.4"/>
<text x="1561.3" y="43.4" font-size="12.7" text-anchor="end" font-weight="normal" fill="#2a2a2a" stroke="#2a2a2a" stroke-width="0.25">0.4</text>
<line x1="1566.1" y1="285.94" x2="1571.6" y2="285.94" stroke="#333" stroke-width="1.4"/>
<text x="1561.3" y="290.64" font-size="12.7" text-anchor="end" font-weight="normal" fill="#2a2a2a" stroke="#2a2a2a" stroke-width="0.25">6</text>
<line x1="1566.1" y1="308.62" x2="1571.6" y2="308.62" stroke="#333" stroke-width="1.4"/>
<text x="1561.3" y="313.32" font-size="12.7" text-anchor="end" font-weight="normal" fill="#2a2a2a" stroke="#2a2a2a" stroke-width="0.25">3</text>
<line x1="1566.1" y1="331.3" x2="1571.6" y2="331.3" stroke="#333" stroke-width="1.4"/>
<text x="1561.3" y="336" font-size="12.7" text-anchor="end" font-weight="normal" fill="#2a2a2a" stroke="#2a2a2a" stroke-width="0.25">0</text>
<line x1="1566.1" y1="353.98" x2="1571.6" y2="353.98" stroke="#333" stroke-width="1.4"/>
<text x="1561.3" y="358.68" font-size="12.7" text-anchor="end" font-weight="normal" fill="#2a2a2a" stroke="#2a2a2a" stroke-width="0.25">-3</text>
<line x1="1566.1" y1="376.66" x2="1571.6" y2="376.66" stroke="#333" stroke-width="1.4"/>
<text x="1561.3" y="381.36" font-size="12.7" text-anchor="end" font-weight="normal" fill="#2a2a2a" stroke="#2a2a2a" stroke-width="0.25">-6</text>
<line x1="1687.6" y1="384" x2="1687.6" y2="389.5" stroke="#333" stroke-width="1.4"/>
<text x="1687.6" y="404.2" font-size="12.7" text-anchor="middle" font-weight="normal" fill="#2a2a2a" stroke="#2a2a2a" stroke-width="0.25">5000</text>
<line x1="1803.6" y1="384" x2="1803.6" y2="389.5" stroke="#333" stroke-width="1.4"/>
<text x="1803.6" y="404.2" font-size="12.7" text-anchor="middle" font-weight="normal" fill="#2a2a2a" stroke="#2a2a2a" stroke-width="0.25">10000</text>
<line x1="1919.6" y1="384" x2="1919.6" y2="389.5" stroke="#333" stroke-width="1.4"/>
<text x="1919.6" y="404.2" font-size="12.7" text-anchor="middle" font-weight="normal" fill="#2a2a2a" stroke="#2a2a2a" stroke-width="0.25">15000</text>
<text x="1751.3" y="23" font-size="14.9" text-anchor="middle" font-weight="normal" fill="#111" stroke="#111" stroke-width="0.3">REACTOME<tspan dy="0.5">_</tspan><tspan dy="-0.5">M</tspan><tspan dy="0.5">_</tspan><tspan dy="-0.5">PHASE</tspan></text>
<text x="1751.5" y="423.3" font-size="14.7" text-anchor="middle" font-weight="normal" fill="#111" stroke="#111" stroke-width="0.3">Rank in Ordered Dataset</text>
<text x="1535.1" y="123.05" font-size="14.7" text-anchor="middle" font-weight="normal" fill="#111" stroke="#111" stroke-width="0.3" transform="rotate(-90 1535.1 123.05)">Enrichment Score</text>
<text x="1541.6" y="333.1" font-size="14.7" text-anchor="middle" font-weight="normal" fill="#111" stroke="#111" stroke-width="0.3" transform="rotate(-90 1541.6 333.1)">Ranked list metric</text>
<rect x="1067" y="479.5" width="359.5" height="356.3" fill="#fff"/>
<clipPath id="clipd"><rect x="1067" y="479.5" width="359.5" height="190.2"/></clipPath>
<g clip-path="url(#clipd)">
<line x1="1067" y1="652.2" x2="1426.5" y2="652.2" stroke="#E6E6E6" stroke-width="1.5"/>
<line x1="1067" y1="633.03" x2="1426.5" y2="633.03" stroke="#ECECEC" stroke-width="1.0"/>
<line x1="1067" y1="613.85" x2="1426.5" y2="613.85" stroke="#E6E6E6" stroke-width="1.5"/>
<line x1="1067" y1="594.68" x2="1426.5" y2="594.68" stroke="#ECECEC" stroke-width="1.0"/>
<line x1="1067" y1="575.5" x2="1426.5" y2="575.5" stroke="#E6E6E6" stroke-width="1.5"/>
<line x1="1067" y1="556.33" x2="1426.5" y2="556.33" stroke="#ECECEC" stroke-width="1.0"/>
<line x1="1067" y1="537.15" x2="1426.5" y2="537.15" stroke="#E6E6E6" stroke-width="1.5"/>
<line x1="1067" y1="517.98" x2="1426.5" y2="517.98" stroke="#ECECEC" stroke-width="1.0"/>
<line x1="1067" y1="498.8" x2="1426.5" y2="498.8" stroke="#E6E6E6" stroke-width="1.5"/>
<line x1="1067" y1="479.62" x2="1426.5" y2="479.62" stroke="#ECECEC" stroke-width="1.0"/>
<line x1="1124.98" y1="479.5" x2="1124.98" y2="669.7" stroke="#ECECEC" stroke-width="1.0"/>
<line x1="1182.97" y1="479.5" x2="1182.97" y2="669.7" stroke="#E6E6E6" stroke-width="1.5"/>
<line x1="1240.95" y1="479.5" x2="1240.95" y2="669.7" stroke="#ECECEC" stroke-width="1.0"/>
<line x1="1298.94" y1="479.5" x2="1298.94" y2="669.7" stroke="#E6E6E6" stroke-width="1.5"/>
<line x1="1356.92" y1="479.5" x2="1356.92" y2="669.7" stroke="#ECECEC" stroke-width="1.0"/>
<line x1="1414.9" y1="479.5" x2="1414.9" y2="669.7" stroke="#E6E6E6" stroke-width="1.5"/>
<line x1="1067" y1="652.2" x2="1426.5" y2="652.2" stroke="#9A9A9A" stroke-width="1.6"/>
<polyline points="1067.5,652.2 1068.1,653 1074.6,660.9 1076,649.3 1078.2,645.7 1079.7,647.2 1081.1,643.5 1085.4,647.9 1087.01,648.33 1087.01,644.12 1089.1,644.91 1089.1,639.2 1091.2,624.7 1093.4,606.6 1095.6,607.3 1097,596.5 1101.4,595.8 1102.8,582 1105,576.9 1107.9,566.8 1110.8,566.1 1113,557.4 1115.65,558.25 1115.65,554.69 1117.3,554.98 1117.3,553 1119.5,546.5 1122.5,547.79 1122.5,543.5 1124.36,543.77 1124.36,541.64 1125.3,542.05 1125.3,540.7 1127.82,541.69 1127.82,538.18 1130.17,538.68 1130.17,535.83 1132.5,536.26 1132.5,533.5 1135.52,534.87 1135.52,531.73 1137.76,532.18 1137.76,530.42 1139.65,531.04 1139.65,529.31 1141.2,529.63 1141.2,528.4 1144.1,527 1146.3,526.2 1148.88,527.29 1148.88,524.12 1149.9,524.51 1149.9,523.3 1152.82,524.28 1152.82,518.57 1154.16,518.8 1154.16,516.4 1155.7,516.61 1155.7,513.9 1161.5,513.9 1162.9,512.5 1165.71,513.23 1165.71,510.8 1168.31,511.34 1168.31,509.24 1170.2,509.8 1170.2,508.1 1173.1,502.3 1175.91,502.94 1175.91,500.4 1177.4,500.66 1177.4,499.4 1178.9,495.1 1183.2,494.4 1184.7,490.8 1189,492.2 1192.42,492.76 1192.42,489.9 1194.8,490.58 1194.8,488.3 1199.1,492.2 1202,489.7 1209.3,492.2 1216.5,491.2 1219.4,492.6 1223.8,491.2 1234.6,498.7 1242.6,500.2 1251.7,508.1 1260.4,516.1 1264.7,519.7 1276.3,532 1286.4,542.2 1292.2,547.2 1302.4,557.4 1311.1,563.2 1316.9,566.1 1327,574 1335.7,577.7 1344.4,584.9 1353.1,592.1 1356,592.9 1363.2,598.6 1368.3,603.7 1369.7,600.8 1377.7,608.8 1389.3,618.2 1415.3,645 1416.1,641.4 1425.8,651.2" fill="none" stroke="#4DADC4" stroke-width="2.0" stroke-linejoin="round"/>
</g>
<text x="1419" y="496.2" font-size="10.3" text-anchor="end" font-weight="normal" fill="#222" stroke="#222" stroke-width="0.25">NES = 1.709</text>
<text x="1419" y="511.7" font-size="10.3" text-anchor="end" font-weight="normal" fill="#222" stroke="#222" stroke-width="0.25">p.adj = 0.086</text>
<text x="1419" y="527.3" font-size="10.3" text-anchor="end" font-weight="normal" fill="#222" stroke="#222" stroke-width="0.25">FDR = 0.079</text>
<rect x="1074.8" y="669.7" width="7.6" height="64.3" fill="#000"/>
<rect x="1084.7" y="669.7" width="160.5" height="64.3" fill="#000"/>
<rect x="1247.3" y="669.7" width="4.2" height="64.3" fill="#000"/>
<rect x="1253.3" y="669.7" width="1" height="64.3" fill="#000"/>
<rect x="1257.5" y="669.7" width="1.8" height="64.3" fill="#000"/>
<rect x="1259.8" y="669.7" width="5.1" height="64.3" fill="#000"/>
<rect x="1267.2" y="669.7" width="1.4" height="64.3" fill="#000"/>
<rect x="1270.9" y="669.7" width="1.9" height="64.3" fill="#000"/>
<rect x="1275.5" y="669.7" width="1.4" height="64.3" fill="#000"/>
<rect x="1278.8" y="669.7" width="1.8" height="64.3" fill="#000"/>
<rect x="1282.9" y="669.7" width="1.9" height="64.3" fill="#000"/>
<rect x="1287.6" y="669.7" width="1.8" height="64.3" fill="#000"/>
<rect x="1291.7" y="669.7" width="2.8" height="64.3" fill="#000"/>
<rect x="1297.3" y="669.7" width="2.3" height="64.3" fill="#000"/>
<rect x="1301.4" y="669.7" width="4.7" height="64.3" fill="#000"/>
<rect x="1308.8" y="669.7" width="4.2" height="64.3" fill="#000"/>
<rect x="1315.8" y="669.7" width="2.7" height="64.3" fill="#000"/>
<rect x="1322.2" y="669.7" width="2.4" height="64.3" fill="#000"/>
<rect x="1327.3" y="669.7" width="1.9" height="64.3" fill="#000"/>
<rect x="1331.5" y="669.7" width="4.2" height="64.3" fill="#000"/>
<rect x="1340.3" y="669.7" width="3.2" height="64.3" fill="#000"/>
<rect x="1349.1" y="669.7" width="1.4" height="64.3" fill="#000"/>
<rect x="1353.2" y="669.7" width="3.3" height="64.3" fill="#000"/>
<rect x="1361.1" y="669.7" width="1.8" height="64.3" fill="#000"/>
<rect x="1368" y="669.7" width="1.9" height="64.3" fill="#000"/>
<rect x="1377.7" y="669.7" width="1.9" height="64.3" fill="#000"/>
<rect x="1387.9" y="669.7" width="1.9" height="64.3" fill="#000"/>
<rect x="1414.7" y="669.7" width="1.9" height="64.3" fill="#000"/>
<rect x="1076.2" y="669.7" width="0.8" height="64.3" fill="#fff" fill-opacity="0.4"/>
<rect x="1078.3" y="669.7" width="0.8" height="64.3" fill="#fff" fill-opacity="0.6"/>
<rect x="1086.6" y="669.7" width="0.8" height="64.3" fill="#fff" fill-opacity="0.35"/>
<rect x="1094.9" y="669.7" width="0.8" height="64.3" fill="#fff" fill-opacity="0.7"/>
<rect x="1098.6" y="669.7" width="0.8" height="64.3" fill="#fff" fill-opacity="0.7"/>
<rect x="1105" y="669.7" width="0.8" height="64.3" fill="#fff" fill-opacity="0.7"/>
<rect x="1109.6" y="669.7" width="0.8" height="64.3" fill="#fff" fill-opacity="0.7"/>
<rect x="1116" y="669.7" width="0.8" height="64.3" fill="#fff" fill-opacity="0.35"/>
<rect x="1118.8" y="669.7" width="0.8" height="64.3" fill="#fff" fill-opacity="0.35"/>
<rect x="1124.3" y="669.7" width="0.8" height="64.3" fill="#fff" fill-opacity="0.35"/>
<rect x="1128" y="669.7" width="0.8" height="64.3" fill="#fff" fill-opacity="0.35"/>
<rect x="1134.4" y="669.7" width="0.8" height="64.3" fill="#fff" fill-opacity="0.7"/>
<rect x="1137.1" y="669.7" width="0.8" height="64.3" fill="#fff" fill-opacity="0.35"/>
<rect x="1140" y="669.7" width="0.8" height="64.3" fill="#fff" fill-opacity="0.7"/>
<rect x="1144.1" y="669.7" width="0.8" height="64.3" fill="#fff" fill-opacity="1"/>
<rect x="1151.9" y="669.7" width="0.8" height="64.3" fill="#fff" fill-opacity="0.35"/>
<rect x="1156.1" y="669.7" width="0.8" height="64.3" fill="#fff" fill-opacity="0.35"/>
<rect x="1159.7" y="669.7" width="0.8" height="64.3" fill="#fff" fill-opacity="1"/>
<rect x="1167.6" y="669.7" width="0.8" height="64.3" fill="#fff" fill-opacity="0.7"/>
<rect x="1173.1" y="669.7" width="0.8" height="64.3" fill="#fff" fill-opacity="0.35"/>
<rect x="1181.4" y="669.7" width="0.8" height="64.3" fill="#fff" fill-opacity="0.35"/>
<rect x="1185.5" y="669.7" width="0.8" height="64.3" fill="#fff" fill-opacity="0.7"/>
<rect x="1197" y="669.7" width="0.8" height="64.3" fill="#fff" fill-opacity="1"/>
<rect x="1201.6" y="669.7" width="0.8" height="64.3" fill="#fff" fill-opacity="0.35"/>
<rect x="1208" y="669.7" width="0.8" height="64.3" fill="#fff" fill-opacity="0.7"/>
<rect x="1216.3" y="669.7" width="0.8" height="64.3" fill="#fff" fill-opacity="0.7"/>
<rect x="1224.1" y="669.7" width="0.8" height="64.3" fill="#fff" fill-opacity="0.35"/>
<rect x="1227.8" y="669.7" width="0.8" height="64.3" fill="#fff" fill-opacity="0.7"/>
<rect x="1232.9" y="669.7" width="0.8" height="64.3" fill="#fff" fill-opacity="0.7"/>
<rect x="1261.6" y="669.7" width="0.8" height="64.3" fill="#fff" fill-opacity="0.4"/>
<rect x="1302.4" y="669.7" width="0.8" height="64.3" fill="#fff" fill-opacity="0.3"/>
<rect x="1310.6" y="669.7" width="0.8" height="64.3" fill="#fff" fill-opacity="0.3"/>
<rect x="1333.6" y="669.7" width="0.8" height="64.3" fill="#fff" fill-opacity="0.3"/>
<rect x="1067" y="715.8" width="11.7" height="18.2" fill="#9C0E13" fill-opacity="0.9"/>
<rect x="1078.7" y="715.8" width="108.6" height="18.2" fill="#D22A24" fill-opacity="0.9"/>
<rect x="1187.3" y="715.8" width="44.6" height="18.2" fill="#EE6446" fill-opacity="0.9"/>
<rect x="1231.9" y="715.8" width="33.9" height="18.2" fill="#EFA589" fill-opacity="0.9"/>
<rect x="1265.8" y="715.8" width="27.3" height="18.2" fill="#F1D9CE" fill-opacity="0.9"/>
<rect x="1293.1" y="715.8" width="27.8" height="18.2" fill="#E3E6F2" fill-opacity="0.9"/>
<rect x="1320.9" y="715.8" width="30.5" height="18.2" fill="#B3CCDB" fill-opacity="0.9"/>
<rect x="1351.4" y="715.8" width="33.3" height="18.2" fill="#65A5CB" fill-opacity="0.9"/>
<rect x="1384.7" y="715.8" width="31.4" height="18.2" fill="#2E7BB3" fill-opacity="0.9"/>
<rect x="1416.1" y="715.8" width="10.4" height="18.2" fill="#074C94" fill-opacity="0.9"/>
<line x1="1067" y1="827.76" x2="1426.5" y2="827.76" stroke="#E6E6E6" stroke-width="1.5"/>
<line x1="1067" y1="816.42" x2="1426.5" y2="816.42" stroke="#ECECEC" stroke-width="1.0"/>
<line x1="1067" y1="805.08" x2="1426.5" y2="805.08" stroke="#E6E6E6" stroke-width="1.5"/>
<line x1="1067" y1="793.74" x2="1426.5" y2="793.74" stroke="#ECECEC" stroke-width="1.0"/>
<line x1="1067" y1="782.4" x2="1426.5" y2="782.4" stroke="#E6E6E6" stroke-width="1.5"/>
<line x1="1067" y1="771.06" x2="1426.5" y2="771.06" stroke="#ECECEC" stroke-width="1.0"/>
<line x1="1067" y1="759.72" x2="1426.5" y2="759.72" stroke="#E6E6E6" stroke-width="1.5"/>
<line x1="1067" y1="748.38" x2="1426.5" y2="748.38" stroke="#ECECEC" stroke-width="1.0"/>
<line x1="1067" y1="737.04" x2="1426.5" y2="737.04" stroke="#E6E6E6" stroke-width="1.5"/>
<line x1="1124.98" y1="734" x2="1124.98" y2="835.8" stroke="#ECECEC" stroke-width="1.0"/>
<line x1="1182.97" y1="734" x2="1182.97" y2="835.8" stroke="#E6E6E6" stroke-width="1.5"/>
<line x1="1240.95" y1="734" x2="1240.95" y2="835.8" stroke="#ECECEC" stroke-width="1.0"/>
<line x1="1298.94" y1="734" x2="1298.94" y2="835.8" stroke="#E6E6E6" stroke-width="1.5"/>
<line x1="1356.92" y1="734" x2="1356.92" y2="835.8" stroke="#ECECEC" stroke-width="1.0"/>
<line x1="1414.9" y1="734" x2="1414.9" y2="835.8" stroke="#E6E6E6" stroke-width="1.5"/>
<path d="M1067,782.4 L1067,765.01 L1068.8,766.52 L1070.6,770.3 L1073.47,773.93 L1079.22,776.2 L1084.97,777.86 L1099.36,779.45 L1117.33,780.13 L1138.9,780.59 L1167.66,781.04 L1228.78,781.8 L1282.7,782.4 L1318.65,782.78 L1357.48,783.46 L1385.52,784.67 L1403.85,786.18 L1414.64,787.54 L1420.75,790.87 L1423.62,795.25 L1425.06,801.3 L1426.5,808.1 L1426.5,782.4 Z" fill="#C2C2C2"/>
<rect x="1067" y="479.5" width="359.5" height="190.2" fill="none" stroke="#111" stroke-width="1.8"/>
<rect x="1067" y="669.7" width="359.5" height="64.3" fill="none" stroke="#111" stroke-width="1.8"/>
<rect x="1067" y="734" width="359.5" height="101.8" fill="none" stroke="#111" stroke-width="1.8"/>
<line x1="1061.5" y1="652.2" x2="1067" y2="652.2" stroke="#333" stroke-width="1.4"/>
<text x="1056.7" y="656.9" font-size="12.7" text-anchor="end" font-weight="normal" fill="#2a2a2a" stroke="#2a2a2a" stroke-width="0.25">0.0</text>
<line x1="1061.5" y1="613.85" x2="1067" y2="613.85" stroke="#333" stroke-width="1.4"/>
<text x="1056.7" y="618.55" font-size="12.7" text-anchor="end" font-weight="normal" fill="#2a2a2a" stroke="#2a2a2a" stroke-width="0.25">0.1</text>
<line x1="1061.5" y1="575.5" x2="1067" y2="575.5" stroke="#333" stroke-width="1.4"/>
<text x="1056.7" y="580.2" font-size="12.7" text-anchor="end" font-weight="normal" fill="#2a2a2a" stroke="#2a2a2a" stroke-width="0.25">0.2</text>
<line x1="1061.5" y1="537.15" x2="1067" y2="537.15" stroke="#333" stroke-width="1.4"/>
<text x="1056.7" y="541.85" font-size="12.7" text-anchor="end" font-weight="normal" fill="#2a2a2a" stroke="#2a2a2a" stroke-width="0.25">0.3</text>
<line x1="1061.5" y1="498.8" x2="1067" y2="498.8" stroke="#333" stroke-width="1.4"/>
<text x="1056.7" y="503.5" font-size="12.7" text-anchor="end" font-weight="normal" fill="#2a2a2a" stroke="#2a2a2a" stroke-width="0.25">0.4</text>
<line x1="1061.5" y1="737.04" x2="1067" y2="737.04" stroke="#333" stroke-width="1.4"/>
<text x="1056.7" y="741.74" font-size="12.7" text-anchor="end" font-weight="normal" fill="#2a2a2a" stroke="#2a2a2a" stroke-width="0.25">6</text>
<line x1="1061.5" y1="759.72" x2="1067" y2="759.72" stroke="#333" stroke-width="1.4"/>
<text x="1056.7" y="764.42" font-size="12.7" text-anchor="end" font-weight="normal" fill="#2a2a2a" stroke="#2a2a2a" stroke-width="0.25">3</text>
<line x1="1061.5" y1="782.4" x2="1067" y2="782.4" stroke="#333" stroke-width="1.4"/>
<text x="1056.7" y="787.1" font-size="12.7" text-anchor="end" font-weight="normal" fill="#2a2a2a" stroke="#2a2a2a" stroke-width="0.25">0</text>
<line x1="1061.5" y1="805.08" x2="1067" y2="805.08" stroke="#333" stroke-width="1.4"/>
<text x="1056.7" y="809.78" font-size="12.7" text-anchor="end" font-weight="normal" fill="#2a2a2a" stroke="#2a2a2a" stroke-width="0.25">-3</text>
<line x1="1061.5" y1="827.76" x2="1067" y2="827.76" stroke="#333" stroke-width="1.4"/>
<text x="1056.7" y="832.46" font-size="12.7" text-anchor="end" font-weight="normal" fill="#2a2a2a" stroke="#2a2a2a" stroke-width="0.25">-6</text>
<line x1="1182.97" y1="835.8" x2="1182.97" y2="841.3" stroke="#333" stroke-width="1.4"/>
<text x="1182.97" y="856" font-size="12.7" text-anchor="middle" font-weight="normal" fill="#2a2a2a" stroke="#2a2a2a" stroke-width="0.25">5000</text>
<line x1="1298.94" y1="835.8" x2="1298.94" y2="841.3" stroke="#333" stroke-width="1.4"/>
<text x="1298.94" y="856" font-size="12.7" text-anchor="middle" font-weight="normal" fill="#2a2a2a" stroke="#2a2a2a" stroke-width="0.25">10000</text>
<line x1="1414.9" y1="835.8" x2="1414.9" y2="841.3" stroke="#333" stroke-width="1.4"/>
<text x="1414.9" y="856" font-size="12.7" text-anchor="middle" font-weight="normal" fill="#2a2a2a" stroke="#2a2a2a" stroke-width="0.25">15000</text>
<text x="1246.8" y="474.8" font-size="14.9" text-anchor="middle" font-weight="normal" fill="#111" stroke="#111" stroke-width="0.3">REACTOME<tspan dy="0.5">_</tspan><tspan dy="-0.5">CELL</tspan><tspan dy="0.5">_</tspan><tspan dy="-0.5">CYCLE</tspan><tspan dy="0.5">_</tspan><tspan dy="-0.5">CHECKPOINTS</tspan></text>
<text x="1247" y="874" font-size="14.7" text-anchor="middle" font-weight="normal" fill="#111" stroke="#111" stroke-width="0.3">Rank in Ordered Dataset</text>
<text x="1030.5" y="574.6" font-size="14.7" text-anchor="middle" font-weight="normal" fill="#111" stroke="#111" stroke-width="0.3" transform="rotate(-90 1030.5 574.6)">Enrichment Score</text>
<text x="1037" y="784.9" font-size="14.7" text-anchor="middle" font-weight="normal" fill="#111" stroke="#111" stroke-width="0.3" transform="rotate(-90 1037 784.9)">Ranked list metric</text>
<rect x="1571.5" y="480" width="359.7" height="355.8" fill="#fff"/>
<clipPath id="clipe"><rect x="1571.5" y="480" width="359.7" height="189.7"/></clipPath>
<g clip-path="url(#clipe)">
<line x1="1571.5" y1="652" x2="1931.2" y2="652" stroke="#E6E6E6" stroke-width="1.5"/>
<line x1="1571.5" y1="631.67" x2="1931.2" y2="631.67" stroke="#ECECEC" stroke-width="1.0"/>
<line x1="1571.5" y1="611.35" x2="1931.2" y2="611.35" stroke="#E6E6E6" stroke-width="1.5"/>
<line x1="1571.5" y1="591.02" x2="1931.2" y2="591.02" stroke="#ECECEC" stroke-width="1.0"/>
<line x1="1571.5" y1="570.7" x2="1931.2" y2="570.7" stroke="#E6E6E6" stroke-width="1.5"/>
<line x1="1571.5" y1="550.38" x2="1931.2" y2="550.38" stroke="#ECECEC" stroke-width="1.0"/>
<line x1="1571.5" y1="530.05" x2="1931.2" y2="530.05" stroke="#E6E6E6" stroke-width="1.5"/>
<line x1="1571.5" y1="509.73" x2="1931.2" y2="509.73" stroke="#ECECEC" stroke-width="1.0"/>
<line x1="1571.5" y1="489.4" x2="1931.2" y2="489.4" stroke="#E6E6E6" stroke-width="1.5"/>
<line x1="1629.52" y1="480" x2="1629.52" y2="669.7" stroke="#ECECEC" stroke-width="1.0"/>
<line x1="1687.53" y1="480" x2="1687.53" y2="669.7" stroke="#E6E6E6" stroke-width="1.5"/>
<line x1="1745.55" y1="480" x2="1745.55" y2="669.7" stroke="#ECECEC" stroke-width="1.0"/>
<line x1="1803.56" y1="480" x2="1803.56" y2="669.7" stroke="#E6E6E6" stroke-width="1.5"/>
<line x1="1861.58" y1="480" x2="1861.58" y2="669.7" stroke="#ECECEC" stroke-width="1.0"/>
<line x1="1919.6" y1="480" x2="1919.6" y2="669.7" stroke="#E6E6E6" stroke-width="1.5"/>
<line x1="1571.5" y1="652" x2="1931.2" y2="652" stroke="#9A9A9A" stroke-width="1.6"/>
<polyline points="1572,652 1573.1,652.2 1579.6,660.9 1581.8,647.9 1583.9,650.1 1586.8,633.4 1589,634.9 1589.7,633.4 1592.6,637.8 1594.8,623.3 1596.2,604.4 1597,590 1598.4,591.4 1599.1,578.4 1601.3,576.2 1604.9,579.1 1606.79,579.94 1606.79,572.07 1608.6,572.88 1608.6,565.3 1610.7,568.2 1612.46,568.5 1612.46,562.59 1614.3,563.36 1614.3,556.7 1616.5,558.8 1618.7,549.4 1620.07,550.02 1620.07,547.65 1623.8,548.78 1623.8,542.9 1626.7,540 1628.1,534.9 1630.83,535.82 1630.83,533.3 1631.7,533.47 1631.7,532.8 1636.1,537.8 1638.82,538.44 1638.82,534.02 1639.7,534.37 1639.7,532.8 1642.6,534.9 1646.2,536.11 1646.2,532 1649.8,533.5 1652,529.1 1654.9,527.7 1656.3,524.1 1660,524.76 1660,516.1 1662.9,515.4 1666.5,514.7 1667.9,508.1 1670.8,505.2 1673.7,506 1676.6,499.4 1680.2,498 1683.1,488.6 1687.5,493.7 1689.6,490.8 1695.4,495.8 1699.1,496.6 1704.1,500.2 1705.6,497.3 1711.4,496.6 1715.7,498.7 1717.2,496.6 1721.5,498 1724.4,500.9 1727.3,498 1733.8,501.6 1738.9,506.7 1744.7,508.9 1749,511.8 1753.8,516.1 1766.8,527.7 1784.2,546.5 1801.6,565.3 1813.2,575.5 1820.4,579.1 1830.5,590 1840.7,596.5 1849.4,602.3 1856.6,609.5 1865.3,614.6 1866.8,613.1 1872.5,620.4 1875.4,617.5 1881.2,624 1887,623.3 1891.4,625.4 1895.7,626.2 1919.6,653 1921.8,641.4 1930.5,651.2" fill="none" stroke="#4DADC4" stroke-width="2.0" stroke-linejoin="round"/>
</g>
<text x="1923.6" y="496.2" font-size="10.3" text-anchor="end" font-weight="normal" fill="#222" stroke="#222" stroke-width="0.25">NES = 1.554</text>
<text x="1923.6" y="512" font-size="10.3" text-anchor="end" font-weight="normal" fill="#222" stroke="#222" stroke-width="0.25">p.adj = 0.086</text>
<text x="1923.6" y="527.4" font-size="10.3" text-anchor="end" font-weight="normal" fill="#222" stroke="#222" stroke-width="0.25">FDR = 0.079</text>
<rect x="1579.5" y="669.7" width="9.6" height="64.3" fill="#000"/>
<rect x="1591.4" y="669.7" width="11" height="64.3" fill="#000"/>
<rect x="1604.2" y="669.7" width="28.8" height="64.3" fill="#000"/>
<rect x="1635.8" y="669.7" width="48.5" height="64.3" fill="#000"/>
<rect x="1687.5" y="669.7" width="2.3" height="64.3" fill="#000"/>
<rect x="1693.4" y="669.7" width="6.4" height="64.3" fill="#000"/>
<rect x="1701.2" y="669.7" width="33.4" height="64.3" fill="#000"/>
<rect x="1737.3" y="669.7" width="12.9" height="64.3" fill="#000"/>
<rect x="1754.2" y="669.7" width="11.5" height="64.3" fill="#000"/>
<rect x="1767" y="669.7" width="1.5" height="64.3" fill="#000"/>
<rect x="1770" y="669.7" width="2.5" height="64.3" fill="#000"/>
<rect x="1773.5" y="669.7" width="1.5" height="64.3" fill="#000"/>
<rect x="1775.9" y="669.7" width="12" height="64.3" fill="#000"/>
<rect x="1792.6" y="669.7" width="1.8" height="64.3" fill="#000"/>
<rect x="1801.8" y="669.7" width="2.3" height="64.3" fill="#000"/>
<rect x="1806.4" y="669.7" width="1.9" height="64.3" fill="#000"/>
<rect x="1811.5" y="669.7" width="10.2" height="64.3" fill="#000"/>
<rect x="1828.2" y="669.7" width="1.4" height="64.3" fill="#000"/>
<rect x="1832.8" y="669.7" width="3.7" height="64.3" fill="#000"/>
<rect x="1839.3" y="669.7" width="4.1" height="64.3" fill="#000"/>
<rect x="1847.1" y="669.7" width="3.3" height="64.3" fill="#000"/>
<rect x="1856.4" y="669.7" width="1.4" height="64.3" fill="#000"/>
<rect x="1860.5" y="669.7" width="1.4" height="64.3" fill="#000"/>
<rect x="1864.7" y="669.7" width="1.4" height="64.3" fill="#000"/>
<rect x="1872.1" y="669.7" width="3.7" height="64.3" fill="#000"/>
<rect x="1882.3" y="669.7" width="5.5" height="64.3" fill="#000"/>
<rect x="1890.6" y="669.7" width="1.4" height="64.3" fill="#000"/>
<rect x="1895.2" y="669.7" width="1.4" height="64.3" fill="#000"/>
<rect x="1920.2" y="669.7" width="1.9" height="64.3" fill="#000"/>
<rect x="1582.8" y="669.7" width="0.8" height="64.3" fill="#fff" fill-opacity="0.6"/>
<rect x="1587.1" y="669.7" width="0.8" height="64.3" fill="#fff" fill-opacity="0.3"/>
<rect x="1596.1" y="669.7" width="0.8" height="64.3" fill="#fff" fill-opacity="0.3"/>
<rect x="1608.9" y="669.7" width="0.8" height="64.3" fill="#fff" fill-opacity="1"/>
<rect x="1615.3" y="669.7" width="0.8" height="64.3" fill="#fff" fill-opacity="1"/>
<rect x="1621.1" y="669.7" width="0.8" height="64.3" fill="#fff" fill-opacity="0.3"/>
<rect x="1623.6" y="669.7" width="0.8" height="64.3" fill="#fff" fill-opacity="0.3"/>
<rect x="1629" y="669.7" width="0.8" height="64.3" fill="#fff" fill-opacity="0.6"/>
<rect x="1640.4" y="669.7" width="0.8" height="64.3" fill="#fff" fill-opacity="1"/>
<rect x="1645" y="669.7" width="0.8" height="64.3" fill="#fff" fill-opacity="0.6"/>
<rect x="1648.6" y="669.7" width="0.8" height="64.3" fill="#fff" fill-opacity="1"/>
<rect x="1654.6" y="669.7" width="0.8" height="64.3" fill="#fff" fill-opacity="0.3"/>
<rect x="1661.9" y="669.7" width="0.8" height="64.3" fill="#fff" fill-opacity="0.35"/>
<rect x="1664.2" y="669.7" width="0.8" height="64.3" fill="#fff" fill-opacity="0.6"/>
<rect x="1671.5" y="669.7" width="0.8" height="64.3" fill="#fff" fill-opacity="1"/>
<rect x="1695.8" y="669.7" width="0.8" height="64.3" fill="#fff" fill-opacity="1"/>
<rect x="1703.6" y="669.7" width="0.8" height="64.3" fill="#fff" fill-opacity="0.35"/>
<rect x="1706.8" y="669.7" width="0.8" height="64.3" fill="#fff" fill-opacity="0.6"/>
<rect x="1712.7" y="669.7" width="0.8" height="64.3" fill="#fff" fill-opacity="0.6"/>
<rect x="1722.3" y="669.7" width="0.8" height="64.3" fill="#fff" fill-opacity="1"/>
<rect x="1747" y="669.7" width="0.8" height="64.3" fill="#fff" fill-opacity="0.6"/>
<rect x="1755.6" y="669.7" width="0.8" height="64.3" fill="#fff" fill-opacity="0.6"/>
<rect x="1817.6" y="669.7" width="0.8" height="64.3" fill="#fff" fill-opacity="0.6"/>
<rect x="1833.8" y="669.7" width="0.8" height="64.3" fill="#fff" fill-opacity="0.8"/>
<rect x="1883.2" y="669.7" width="0.8" height="64.3" fill="#fff" fill-opacity="0.6"/>
<rect x="1571.5" y="715.8" width="10.3" height="18.2" fill="#9C0E13" fill-opacity="0.9"/>
<rect x="1581.8" y="715.8" width="102" height="18.2" fill="#D22A24" fill-opacity="0.9"/>
<rect x="1683.8" y="715.8" width="38.9" height="18.2" fill="#EE6446" fill-opacity="0.9"/>
<rect x="1722.7" y="715.8" width="38.9" height="18.2" fill="#EFA589" fill-opacity="0.9"/>
<rect x="1761.6" y="715.8" width="31" height="18.2" fill="#F1D9CE" fill-opacity="0.9"/>
<rect x="1792.6" y="715.8" width="33.7" height="18.2" fill="#E3E6F2" fill-opacity="0.9"/>
<rect x="1826.3" y="715.8" width="23.1" height="18.2" fill="#B3CCDB" fill-opacity="0.9"/>
<rect x="1849.4" y="715.8" width="40.3" height="18.2" fill="#65A5CB" fill-opacity="0.9"/>
<rect x="1889.7" y="715.8" width="36.1" height="18.2" fill="#2E7BB3" fill-opacity="0.9"/>
<rect x="1925.8" y="715.8" width="5.4" height="18.2" fill="#074C94" fill-opacity="0.9"/>
<line x1="1571.5" y1="828.26" x2="1931.2" y2="828.26" stroke="#E6E6E6" stroke-width="1.5"/>
<line x1="1571.5" y1="816.92" x2="1931.2" y2="816.92" stroke="#ECECEC" stroke-width="1.0"/>
<line x1="1571.5" y1="805.58" x2="1931.2" y2="805.58" stroke="#E6E6E6" stroke-width="1.5"/>
<line x1="1571.5" y1="794.24" x2="1931.2" y2="794.24" stroke="#ECECEC" stroke-width="1.0"/>
<line x1="1571.5" y1="782.9" x2="1931.2" y2="782.9" stroke="#E6E6E6" stroke-width="1.5"/>
<line x1="1571.5" y1="771.56" x2="1931.2" y2="771.56" stroke="#ECECEC" stroke-width="1.0"/>
<line x1="1571.5" y1="760.22" x2="1931.2" y2="760.22" stroke="#E6E6E6" stroke-width="1.5"/>
<line x1="1571.5" y1="748.88" x2="1931.2" y2="748.88" stroke="#ECECEC" stroke-width="1.0"/>
<line x1="1571.5" y1="737.54" x2="1931.2" y2="737.54" stroke="#E6E6E6" stroke-width="1.5"/>
<line x1="1629.52" y1="734" x2="1629.52" y2="835.8" stroke="#ECECEC" stroke-width="1.0"/>
<line x1="1687.53" y1="734" x2="1687.53" y2="835.8" stroke="#E6E6E6" stroke-width="1.5"/>
<line x1="1745.55" y1="734" x2="1745.55" y2="835.8" stroke="#ECECEC" stroke-width="1.0"/>
<line x1="1803.56" y1="734" x2="1803.56" y2="835.8" stroke="#E6E6E6" stroke-width="1.5"/>
<line x1="1861.58" y1="734" x2="1861.58" y2="835.8" stroke="#ECECEC" stroke-width="1.0"/>
<line x1="1919.6" y1="734" x2="1919.6" y2="835.8" stroke="#E6E6E6" stroke-width="1.5"/>
<path d="M1571.5,782.9 L1571.5,765.51 L1573.3,767.02 L1575.1,770.8 L1577.97,774.43 L1583.73,776.7 L1589.48,778.36 L1603.87,779.95 L1621.86,780.63 L1643.44,781.09 L1672.22,781.54 L1733.37,782.3 L1787.32,782.9 L1823.29,783.28 L1862.14,783.96 L1890.19,785.17 L1908.54,786.68 L1919.33,788.04 L1925.44,791.37 L1928.32,795.75 L1929.76,801.8 L1931.2,808.6 L1931.2,782.9 Z" fill="#C2C2C2"/>
<rect x="1571.5" y="480" width="359.7" height="189.7" fill="none" stroke="#111" stroke-width="1.8"/>
<rect x="1571.5" y="669.7" width="359.7" height="64.3" fill="none" stroke="#111" stroke-width="1.8"/>
<rect x="1571.5" y="734" width="359.7" height="101.8" fill="none" stroke="#111" stroke-width="1.8"/>
<line x1="1566" y1="652" x2="1571.5" y2="652" stroke="#333" stroke-width="1.4"/>
<text x="1561.2" y="656.7" font-size="12.7" text-anchor="end" font-weight="normal" fill="#2a2a2a" stroke="#2a2a2a" stroke-width="0.25">0.0</text>
<line x1="1566" y1="611.35" x2="1571.5" y2="611.35" stroke="#333" stroke-width="1.4"/>
<text x="1561.2" y="616.05" font-size="12.7" text-anchor="end" font-weight="normal" fill="#2a2a2a" stroke="#2a2a2a" stroke-width="0.25">0.1</text>
<line x1="1566" y1="570.7" x2="1571.5" y2="570.7" stroke="#333" stroke-width="1.4"/>
<text x="1561.2" y="575.4" font-size="12.7" text-anchor="end" font-weight="normal" fill="#2a2a2a" stroke="#2a2a2a" stroke-width="0.25">0.2</text>
<line x1="1566" y1="530.05" x2="1571.5" y2="530.05" stroke="#333" stroke-width="1.4"/>
<text x="1561.2" y="534.75" font-size="12.7" text-anchor="end" font-weight="normal" fill="#2a2a2a" stroke="#2a2a2a" stroke-width="0.25">0.3</text>
<line x1="1566" y1="489.4" x2="1571.5" y2="489.4" stroke="#333" stroke-width="1.4"/>
<text x="1561.2" y="494.1" font-size="12.7" text-anchor="end" font-weight="normal" fill="#2a2a2a" stroke="#2a2a2a" stroke-width="0.25">0.4</text>
<line x1="1566" y1="737.54" x2="1571.5" y2="737.54" stroke="#333" stroke-width="1.4"/>
<text x="1561.2" y="742.24" font-size="12.7" text-anchor="end" font-weight="normal" fill="#2a2a2a" stroke="#2a2a2a" stroke-width="0.25">6</text>
<line x1="1566" y1="760.22" x2="1571.5" y2="760.22" stroke="#333" stroke-width="1.4"/>
<text x="1561.2" y="764.92" font-size="12.7" text-anchor="end" font-weight="normal" fill="#2a2a2a" stroke="#2a2a2a" stroke-width="0.25">3</text>
<line x1="1566" y1="782.9" x2="1571.5" y2="782.9" stroke="#333" stroke-width="1.4"/>
<text x="1561.2" y="787.6" font-size="12.7" text-anchor="end" font-weight="normal" fill="#2a2a2a" stroke="#2a2a2a" stroke-width="0.25">0</text>
<line x1="1566" y1="805.58" x2="1571.5" y2="805.58" stroke="#333" stroke-width="1.4"/>
<text x="1561.2" y="810.28" font-size="12.7" text-anchor="end" font-weight="normal" fill="#2a2a2a" stroke="#2a2a2a" stroke-width="0.25">-3</text>
<line x1="1566" y1="828.26" x2="1571.5" y2="828.26" stroke="#333" stroke-width="1.4"/>
<text x="1561.2" y="832.96" font-size="12.7" text-anchor="end" font-weight="normal" fill="#2a2a2a" stroke="#2a2a2a" stroke-width="0.25">-6</text>
<line x1="1687.53" y1="835.8" x2="1687.53" y2="841.3" stroke="#333" stroke-width="1.4"/>
<text x="1687.53" y="856" font-size="12.7" text-anchor="middle" font-weight="normal" fill="#2a2a2a" stroke="#2a2a2a" stroke-width="0.25">5000</text>
<line x1="1803.56" y1="835.8" x2="1803.56" y2="841.3" stroke="#333" stroke-width="1.4"/>
<text x="1803.56" y="856" font-size="12.7" text-anchor="middle" font-weight="normal" fill="#2a2a2a" stroke="#2a2a2a" stroke-width="0.25">10000</text>
<line x1="1919.6" y1="835.8" x2="1919.6" y2="841.3" stroke="#333" stroke-width="1.4"/>
<text x="1919.6" y="856" font-size="12.7" text-anchor="middle" font-weight="normal" fill="#2a2a2a" stroke="#2a2a2a" stroke-width="0.25">15000</text>
<text x="1751.7" y="474.6" font-size="14.9" text-anchor="middle" font-weight="normal" fill="#111" stroke="#111" stroke-width="0.3">REACTOME<tspan dy="0.5">_</tspan><tspan dy="-0.5">MITOTIC</tspan><tspan dy="0.5">_</tspan><tspan dy="-0.5">G2</tspan><tspan dy="0.5">_</tspan><tspan dy="-0.5">G2</tspan><tspan dy="0.5">_</tspan><tspan dy="-0.5">M</tspan><tspan dy="0.5">_</tspan><tspan dy="-0.5">PHASES</tspan></text>
<text x="1751.5" y="874" font-size="14.7" text-anchor="middle" font-weight="normal" fill="#111" stroke="#111" stroke-width="0.3">Rank in Ordered Dataset</text>
<text x="1535" y="574.85" font-size="14.7" text-anchor="middle" font-weight="normal" fill="#111" stroke="#111" stroke-width="0.3" transform="rotate(-90 1535 574.85)">Enrichment Score</text>
<text x="1541.5" y="784.9" font-size="14.7" text-anchor="middle" font-weight="normal" fill="#111" stroke="#111" stroke-width="0.3" transform="rotate(-90 1541.5 784.9)">Ranked list metric</text>
<rect x="68.1" y="944.3" width="359.4" height="356.1" fill="#fff"/>
<clipPath id="clipf"><rect x="68.1" y="944.3" width="359.4" height="190.5"/></clipPath>
<g clip-path="url(#clipf)">
<line x1="68.1" y1="1125.8" x2="427.5" y2="1125.8" stroke="#ECECEC" stroke-width="1.0"/>
<line x1="68.1" y1="1109.3" x2="427.5" y2="1109.3" stroke="#E6E6E6" stroke-width="1.5"/>
<line x1="68.1" y1="1092.8" x2="427.5" y2="1092.8" stroke="#ECECEC" stroke-width="1.0"/>
<line x1="68.1" y1="1076.3" x2="427.5" y2="1076.3" stroke="#E6E6E6" stroke-width="1.5"/>
<line x1="68.1" y1="1059.8" x2="427.5" y2="1059.8" stroke="#ECECEC" stroke-width="1.0"/>
<line x1="68.1" y1="1043.3" x2="427.5" y2="1043.3" stroke="#E6E6E6" stroke-width="1.5"/>
<line x1="68.1" y1="1026.8" x2="427.5" y2="1026.8" stroke="#ECECEC" stroke-width="1.0"/>
<line x1="68.1" y1="1010.3" x2="427.5" y2="1010.3" stroke="#E6E6E6" stroke-width="1.5"/>
<line x1="68.1" y1="993.8" x2="427.5" y2="993.8" stroke="#ECECEC" stroke-width="1.0"/>
<line x1="68.1" y1="977.3" x2="427.5" y2="977.3" stroke="#E6E6E6" stroke-width="1.5"/>
<line x1="68.1" y1="960.8" x2="427.5" y2="960.8" stroke="#ECECEC" stroke-width="1.0"/>
<line x1="126.07" y1="944.3" x2="126.07" y2="1134.8" stroke="#ECECEC" stroke-width="1.0"/>
<line x1="184.04" y1="944.3" x2="184.04" y2="1134.8" stroke="#E6E6E6" stroke-width="1.5"/>
<line x1="242" y1="944.3" x2="242" y2="1134.8" stroke="#ECECEC" stroke-width="1.0"/>
<line x1="299.97" y1="944.3" x2="299.97" y2="1134.8" stroke="#E6E6E6" stroke-width="1.5"/>
<line x1="357.94" y1="944.3" x2="357.94" y2="1134.8" stroke="#ECECEC" stroke-width="1.0"/>
<line x1="415.91" y1="944.3" x2="415.91" y2="1134.8" stroke="#E6E6E6" stroke-width="1.5"/>
<line x1="68.1" y1="1109.3" x2="427.5" y2="1109.3" stroke="#9A9A9A" stroke-width="1.6"/>
<polyline points="68.5,1109.3 69.1,1109.3 85.7,1125.9 87.9,1113.6 90.1,1114.3 92.2,1097 94.4,1097.7 95.9,1082.5 101.7,1086.8 103.8,1074.5 106.7,1070.2 108.2,1061.5 110.16,1061.92 110.16,1058.34 111.8,1058.72 111.8,1055.7 114,1048.4 116.1,1043.4 118.3,1034.7 119.8,1023.1 122.7,1016.6 126.3,1019.5 127.65,1019.96 127.65,1016.76 130.6,1017.66 130.6,1010.8 131.3,1005 134.02,1005.6 134.02,1000.22 135,1000.37 135,998.5 136.4,996.3 139.3,995.6 143.7,996.3 145.1,986.2 148.7,986.2 151.34,986.59 151.34,981.94 152.3,982.17 152.3,980.4 155.2,981.1 157.4,977.5 163.2,979.7 166.1,974.6 171.2,975.3 172.6,969.5 176.2,971 179.1,960.8 184.2,965.2 186.4,955 190,956.5 191.93,957.33 191.93,955.82 195.1,957.25 195.1,954.7 200.1,959.4 202.3,952.9 208.8,955.8 214.6,954.3 219,959.4 226.2,964.4 236.3,971.7 242.1,973.1 254.1,979.7 267.2,992.7 286,1008.6 297.6,1017.3 307.7,1023.8 317.9,1031.1 323.7,1034.7 329.4,1036.9 336,1040.5 337.4,1039 368.5,1069.4 370,1065.1 416.3,1108.5 417.1,1099.1 427,1108.3" fill="none" stroke="#4DADC4" stroke-width="2.0" stroke-linejoin="round"/>
</g>
<text x="420" y="961.2" font-size="10.3" text-anchor="end" font-weight="normal" fill="#222" stroke="#222" stroke-width="0.25">NES = 1.728</text>
<text x="420" y="977" font-size="10.3" text-anchor="end" font-weight="normal" fill="#222" stroke="#222" stroke-width="0.25">p.adj = 0.086</text>
<text x="420" y="992.4" font-size="10.3" text-anchor="end" font-weight="normal" fill="#222" stroke="#222" stroke-width="0.25">FDR = 0.079</text>
<rect x="85.4" y="1134.8" width="6" height="64.2" fill="#000"/>
<rect x="93.7" y="1134.8" width="1.8" height="64.2" fill="#000"/>
<rect x="101.1" y="1134.8" width="21.7" height="64.2" fill="#000"/>
<rect x="126.5" y="1134.8" width="8.8" height="64.2" fill="#000"/>
<rect x="135.9" y="1134.8" width="1.3" height="64.2" fill="#000"/>
<rect x="138.6" y="1134.8" width="1.2" height="64.2" fill="#000"/>
<rect x="143.6" y="1134.8" width="3.7" height="64.2" fill="#000"/>
<rect x="150.1" y="1134.8" width="2.8" height="64.2" fill="#000"/>
<rect x="155.7" y="1134.8" width="3.2" height="64.2" fill="#000"/>
<rect x="162.6" y="1134.8" width="5.1" height="64.2" fill="#000"/>
<rect x="170.5" y="1134.8" width="2.7" height="64.2" fill="#000"/>
<rect x="176" y="1134.8" width="3.2" height="64.2" fill="#000"/>
<rect x="183.9" y="1134.8" width="3.2" height="64.2" fill="#000"/>
<rect x="190.3" y="1134.8" width="2.8" height="64.2" fill="#000"/>
<rect x="200.5" y="1134.8" width="12.5" height="64.2" fill="#000"/>
<rect x="220.4" y="1134.8" width="3.7" height="64.2" fill="#000"/>
<rect x="227.4" y="1134.8" width="1.3" height="64.2" fill="#000"/>
<rect x="236.6" y="1134.8" width="9.5" height="64.2" fill="#000"/>
<rect x="248.2" y="1134.8" width="2.8" height="64.2" fill="#000"/>
<rect x="251.5" y="1134.8" width="1.3" height="64.2" fill="#000"/>
<rect x="253.3" y="1134.8" width="2.3" height="64.2" fill="#000"/>
<rect x="258.9" y="1134.8" width="1.4" height="64.2" fill="#000"/>
<rect x="265.4" y="1134.8" width="1.3" height="64.2" fill="#000"/>
<rect x="272.3" y="1134.8" width="1.8" height="64.2" fill="#000"/>
<rect x="276.5" y="1134.8" width="1.3" height="64.2" fill="#000"/>
<rect x="283.4" y="1134.8" width="3.2" height="64.2" fill="#000"/>
<rect x="288.9" y="1134.8" width="1.4" height="64.2" fill="#000"/>
<rect x="298.2" y="1134.8" width="2.3" height="64.2" fill="#000"/>
<rect x="303.7" y="1134.8" width="3.3" height="64.2" fill="#000"/>
<rect x="312.1" y="1134.8" width="1.4" height="64.2" fill="#000"/>
<rect x="317.2" y="1134.8" width="1.3" height="64.2" fill="#000"/>
<rect x="323.2" y="1134.8" width="2.3" height="64.2" fill="#000"/>
<rect x="328.3" y="1134.8" width="1.8" height="64.2" fill="#000"/>
<rect x="335.2" y="1134.8" width="1.8" height="64.2" fill="#000"/>
<rect x="369" y="1134.8" width="1.8" height="64.2" fill="#000"/>
<rect x="415.7" y="1134.8" width="1.4" height="64.2" fill="#000"/>
<rect x="88.6" y="1134.8" width="0.8" height="64.2" fill="#fff" fill-opacity="0.35"/>
<rect x="105.8" y="1134.8" width="0.8" height="64.2" fill="#fff" fill-opacity="0.6"/>
<rect x="112.7" y="1134.8" width="0.8" height="64.2" fill="#fff" fill-opacity="0.35"/>
<rect x="129.4" y="1134.8" width="0.8" height="64.2" fill="#fff" fill-opacity="0.35"/>
<rect x="132.1" y="1134.8" width="0.8" height="64.2" fill="#fff" fill-opacity="0.35"/>
<rect x="136.1" y="1134.8" width="0.8" height="64.2" fill="#fff" fill-opacity="0.4"/>
<rect x="156.6" y="1134.8" width="0.8" height="64.2" fill="#fff" fill-opacity="0.35"/>
<rect x="191.6" y="1134.8" width="0.8" height="64.2" fill="#fff" fill-opacity="0.4"/>
<rect x="202.6" y="1134.8" width="0.8" height="64.2" fill="#fff" fill-opacity="0.35"/>
<rect x="205.6" y="1134.8" width="0.8" height="64.2" fill="#fff" fill-opacity="0.4"/>
<rect x="208.6" y="1134.8" width="0.8" height="64.2" fill="#fff" fill-opacity="0.4"/>
<rect x="221.8" y="1134.8" width="0.8" height="64.2" fill="#fff" fill-opacity="0.4"/>
<rect x="304.9" y="1134.8" width="0.8" height="64.2" fill="#fff" fill-opacity="0.6"/>
<rect x="284.6" y="1134.8" width="0.8" height="64.2" fill="#fff" fill-opacity="0.25"/>
<rect x="68.1" y="1180.8" width="11.7" height="18.2" fill="#9C0E13" fill-opacity="0.9"/>
<rect x="79.8" y="1180.8" width="115.6" height="18.2" fill="#D22A24" fill-opacity="0.9"/>
<rect x="195.4" y="1180.8" width="50.9" height="18.2" fill="#EE6446" fill-opacity="0.9"/>
<rect x="246.3" y="1180.8" width="39.4" height="18.2" fill="#EFA589" fill-opacity="0.9"/>
<rect x="285.7" y="1180.8" width="25" height="18.2" fill="#F1D9CE" fill-opacity="0.9"/>
<rect x="310.7" y="1180.8" width="23.1" height="18.2" fill="#E3E6F2" fill-opacity="0.9"/>
<rect x="333.8" y="1180.8" width="28.7" height="18.2" fill="#B3CCDB" fill-opacity="0.9"/>
<rect x="362.5" y="1180.8" width="20.3" height="18.2" fill="#65A5CB" fill-opacity="0.9"/>
<rect x="382.8" y="1180.8" width="26.9" height="18.2" fill="#2E7BB3" fill-opacity="0.9"/>
<rect x="409.7" y="1180.8" width="17.8" height="18.2" fill="#074C94" fill-opacity="0.9"/>
<line x1="68.1" y1="1293.1" x2="427.5" y2="1293.1" stroke="#E6E6E6" stroke-width="1.5"/>
<line x1="68.1" y1="1281.7" x2="427.5" y2="1281.7" stroke="#ECECEC" stroke-width="1.0"/>
<line x1="68.1" y1="1270.3" x2="427.5" y2="1270.3" stroke="#E6E6E6" stroke-width="1.5"/>
<line x1="68.1" y1="1258.9" x2="427.5" y2="1258.9" stroke="#ECECEC" stroke-width="1.0"/>
<line x1="68.1" y1="1247.5" x2="427.5" y2="1247.5" stroke="#E6E6E6" stroke-width="1.5"/>
<line x1="68.1" y1="1236.1" x2="427.5" y2="1236.1" stroke="#ECECEC" stroke-width="1.0"/>
<line x1="68.1" y1="1224.7" x2="427.5" y2="1224.7" stroke="#E6E6E6" stroke-width="1.5"/>
<line x1="68.1" y1="1213.3" x2="427.5" y2="1213.3" stroke="#ECECEC" stroke-width="1.0"/>
<line x1="68.1" y1="1201.9" x2="427.5" y2="1201.9" stroke="#E6E6E6" stroke-width="1.5"/>
<line x1="126.07" y1="1199" x2="126.07" y2="1300.4" stroke="#ECECEC" stroke-width="1.0"/>
<line x1="184.04" y1="1199" x2="184.04" y2="1300.4" stroke="#E6E6E6" stroke-width="1.5"/>
<line x1="242" y1="1199" x2="242" y2="1300.4" stroke="#ECECEC" stroke-width="1.0"/>
<line x1="299.97" y1="1199" x2="299.97" y2="1300.4" stroke="#E6E6E6" stroke-width="1.5"/>
<line x1="357.94" y1="1199" x2="357.94" y2="1300.4" stroke="#ECECEC" stroke-width="1.0"/>
<line x1="415.91" y1="1199" x2="415.91" y2="1300.4" stroke="#E6E6E6" stroke-width="1.5"/>
<path d="M68.1,1247.5 L68.1,1230.02 L69.9,1231.54 L71.69,1235.34 L74.57,1238.99 L80.32,1241.27 L86.07,1242.94 L100.45,1244.54 L118.42,1245.22 L139.98,1245.68 L168.73,1246.13 L229.83,1246.89 L283.74,1247.5 L319.68,1247.88 L358.5,1248.56 L386.53,1249.78 L404.86,1251.3 L415.64,1252.67 L421.75,1256.01 L424.62,1260.42 L426.06,1266.5 L427.5,1273.34 L427.5,1247.5 Z" fill="#C2C2C2"/>
<rect x="68.1" y="944.3" width="359.4" height="190.5" fill="none" stroke="#111" stroke-width="1.8"/>
<rect x="68.1" y="1134.8" width="359.4" height="64.2" fill="none" stroke="#111" stroke-width="1.8"/>
<rect x="68.1" y="1199" width="359.4" height="101.4" fill="none" stroke="#111" stroke-width="1.8"/>
<line x1="62.6" y1="1109.3" x2="68.1" y2="1109.3" stroke="#333" stroke-width="1.4"/>
<text x="57.8" y="1114" font-size="12.7" text-anchor="end" font-weight="normal" fill="#2a2a2a" stroke="#2a2a2a" stroke-width="0.25">0.0</text>
<line x1="62.6" y1="1076.3" x2="68.1" y2="1076.3" stroke="#333" stroke-width="1.4"/>
<text x="57.8" y="1081" font-size="12.7" text-anchor="end" font-weight="normal" fill="#2a2a2a" stroke="#2a2a2a" stroke-width="0.25">0.1</text>
<line x1="62.6" y1="1043.3" x2="68.1" y2="1043.3" stroke="#333" stroke-width="1.4"/>
<text x="57.8" y="1048" font-size="12.7" text-anchor="end" font-weight="normal" fill="#2a2a2a" stroke="#2a2a2a" stroke-width="0.25">0.2</text>
<line x1="62.6" y1="1010.3" x2="68.1" y2="1010.3" stroke="#333" stroke-width="1.4"/>
<text x="57.8" y="1015" font-size="12.7" text-anchor="end" font-weight="normal" fill="#2a2a2a" stroke="#2a2a2a" stroke-width="0.25">0.3</text>
<line x1="62.6" y1="977.3" x2="68.1" y2="977.3" stroke="#333" stroke-width="1.4"/>
<text x="57.8" y="982" font-size="12.7" text-anchor="end" font-weight="normal" fill="#2a2a2a" stroke="#2a2a2a" stroke-width="0.25">0.4</text>
<line x1="62.6" y1="1201.9" x2="68.1" y2="1201.9" stroke="#333" stroke-width="1.4"/>
<text x="57.8" y="1206.6" font-size="12.7" text-anchor="end" font-weight="normal" fill="#2a2a2a" stroke="#2a2a2a" stroke-width="0.25">6</text>
<line x1="62.6" y1="1224.7" x2="68.1" y2="1224.7" stroke="#333" stroke-width="1.4"/>
<text x="57.8" y="1229.4" font-size="12.7" text-anchor="end" font-weight="normal" fill="#2a2a2a" stroke="#2a2a2a" stroke-width="0.25">3</text>
<line x1="62.6" y1="1247.5" x2="68.1" y2="1247.5" stroke="#333" stroke-width="1.4"/>
<text x="57.8" y="1252.2" font-size="12.7" text-anchor="end" font-weight="normal" fill="#2a2a2a" stroke="#2a2a2a" stroke-width="0.25">0</text>
<line x1="62.6" y1="1270.3" x2="68.1" y2="1270.3" stroke="#333" stroke-width="1.4"/>
<text x="57.8" y="1275" font-size="12.7" text-anchor="end" font-weight="normal" fill="#2a2a2a" stroke="#2a2a2a" stroke-width="0.25">-3</text>
<line x1="62.6" y1="1293.1" x2="68.1" y2="1293.1" stroke="#333" stroke-width="1.4"/>
<text x="57.8" y="1297.8" font-size="12.7" text-anchor="end" font-weight="normal" fill="#2a2a2a" stroke="#2a2a2a" stroke-width="0.25">-6</text>
<line x1="184.04" y1="1300.4" x2="184.04" y2="1305.9" stroke="#333" stroke-width="1.4"/>
<text x="184.04" y="1320.6" font-size="12.7" text-anchor="middle" font-weight="normal" fill="#2a2a2a" stroke="#2a2a2a" stroke-width="0.25">5000</text>
<line x1="299.97" y1="1300.4" x2="299.97" y2="1305.9" stroke="#333" stroke-width="1.4"/>
<text x="299.97" y="1320.6" font-size="12.7" text-anchor="middle" font-weight="normal" fill="#2a2a2a" stroke="#2a2a2a" stroke-width="0.25">10000</text>
<line x1="415.91" y1="1300.4" x2="415.91" y2="1305.9" stroke="#333" stroke-width="1.4"/>
<text x="415.91" y="1320.6" font-size="12.7" text-anchor="middle" font-weight="normal" fill="#2a2a2a" stroke="#2a2a2a" stroke-width="0.25">15000</text>
<text x="247.6" y="939.6" font-size="14.9" text-anchor="middle" font-weight="normal" fill="#111" stroke="#111" stroke-width="0.3">REACTOME<tspan dy="0.5">_</tspan><tspan dy="-0.5">DNA</tspan><tspan dy="0.5">_</tspan><tspan dy="-0.5">REPLICATION</tspan></text>
<text x="247.7" y="1339.3" font-size="14.7" text-anchor="middle" font-weight="normal" fill="#111" stroke="#111" stroke-width="0.3">Rank in Ordered Dataset</text>
<text x="31.3" y="1039.55" font-size="14.7" text-anchor="middle" font-weight="normal" fill="#111" stroke="#111" stroke-width="0.3" transform="rotate(-90 31.3 1039.55)">Enrichment Score</text>
<text x="38.1" y="1249.7" font-size="14.7" text-anchor="middle" font-weight="normal" fill="#111" stroke="#111" stroke-width="0.3" transform="rotate(-90 38.1 1249.7)">Ranked list metric</text>
<rect x="570.9" y="944.3" width="359.3" height="356.1" fill="#fff"/>
<clipPath id="clipg"><rect x="570.9" y="944.3" width="359.3" height="190.5"/></clipPath>
<g clip-path="url(#clipg)">
<line x1="570.9" y1="1116.8" x2="930.2" y2="1116.8" stroke="#E6E6E6" stroke-width="1.5"/>
<line x1="570.9" y1="1097.3" x2="930.2" y2="1097.3" stroke="#ECECEC" stroke-width="1.0"/>
<line x1="570.9" y1="1077.8" x2="930.2" y2="1077.8" stroke="#E6E6E6" stroke-width="1.5"/>
<line x1="570.9" y1="1058.3" x2="930.2" y2="1058.3" stroke="#ECECEC" stroke-width="1.0"/>
<line x1="570.9" y1="1038.8" x2="930.2" y2="1038.8" stroke="#E6E6E6" stroke-width="1.5"/>
<line x1="570.9" y1="1019.3" x2="930.2" y2="1019.3" stroke="#ECECEC" stroke-width="1.0"/>
<line x1="570.9" y1="999.8" x2="930.2" y2="999.8" stroke="#E6E6E6" stroke-width="1.5"/>
<line x1="570.9" y1="980.3" x2="930.2" y2="980.3" stroke="#ECECEC" stroke-width="1.0"/>
<line x1="570.9" y1="960.8" x2="930.2" y2="960.8" stroke="#E6E6E6" stroke-width="1.5"/>
<line x1="628.85" y1="944.3" x2="628.85" y2="1134.8" stroke="#ECECEC" stroke-width="1.0"/>
<line x1="686.8" y1="944.3" x2="686.8" y2="1134.8" stroke="#E6E6E6" stroke-width="1.5"/>
<line x1="744.75" y1="944.3" x2="744.75" y2="1134.8" stroke="#ECECEC" stroke-width="1.0"/>
<line x1="802.71" y1="944.3" x2="802.71" y2="1134.8" stroke="#E6E6E6" stroke-width="1.5"/>
<line x1="860.66" y1="944.3" x2="860.66" y2="1134.8" stroke="#ECECEC" stroke-width="1.0"/>
<line x1="918.61" y1="944.3" x2="918.61" y2="1134.8" stroke="#E6E6E6" stroke-width="1.5"/>
<line x1="570.9" y1="1116.8" x2="930.2" y2="1116.8" stroke="#9A9A9A" stroke-width="1.6"/>
<polyline points="571.3,1116.8 572.1,1117.2 578.6,1125.9 580,1115.1 581.5,1116.5 582.2,1108.5 584.4,1110.7 585.1,1102.8 587.3,1104.2 588.7,1092.6 591.6,1094.8 594.5,1081 596,1072.3 598.1,1056.4 603.9,1062.2 605.4,1052.1 606.8,1022.4 609.7,1025.3 611.2,1010.1 613.3,1004.3 615.5,1001.4 617.7,1002.8 619.1,992.7 622,980.4 624.9,974.6 630.7,980.4 632.2,976.8 634.3,967.3 636.5,957.9 639.4,958.7 641.6,957.9 645.9,961.6 646.7,956.2 651,959.4 653.9,960.1 655.3,955.8 657.41,956.34 657.41,954.37 659,954.65 659,953.3 666.9,961.6 673.4,965.9 675.6,960.1 681.4,963.7 685.8,962.3 693.7,970.2 695.2,968.1 706,976 709.7,975.3 720.5,985.4 735,999.2 743.7,1002.8 747.3,1002.1 761.5,1014.4 780.3,1036.1 800.6,1056.4 818,1071.6 820.9,1072.3 826.7,1077.4 832.4,1078.9 839.7,1085.4 846.9,1089 851.3,1092.6 861.4,1102.8 864.3,1099.9 871.5,1107.1 873,1101.3 884.6,1113.6 886.8,1112.9 889.7,1115.8 891.8,1112.9 894.7,1105.6 899,1109.7 901,1107 902.5,1110.5 904.7,1111.31 904.7,1107.58 905.6,1107.85 905.6,1106.4 910.7,1111.4 912.1,1106.4 920.1,1115.1 920.8,1106.4 929.5,1115.8" fill="none" stroke="#4DADC4" stroke-width="2.0" stroke-linejoin="round"/>
</g>
<text x="922.5" y="961.2" font-size="10.3" text-anchor="end" font-weight="normal" fill="#222" stroke="#222" stroke-width="0.25">NES = 1.524</text>
<text x="922.5" y="977" font-size="10.3" text-anchor="end" font-weight="normal" fill="#222" stroke="#222" stroke-width="0.25">p.adj = 0.165</text>
<text x="922.5" y="992.4" font-size="10.3" text-anchor="end" font-weight="normal" fill="#222" stroke="#222" stroke-width="0.25">FDR = 0.151</text>
<rect x="577.7" y="1134.8" width="2.3" height="64.2" fill="#000"/>
<rect x="581" y="1134.8" width="2.3" height="64.2" fill="#000"/>
<rect x="584.2" y="1134.8" width="4.6" height="64.2" fill="#000"/>
<rect x="591.6" y="1134.8" width="6.5" height="64.2" fill="#000"/>
<rect x="603.2" y="1134.8" width="4.1" height="64.2" fill="#000"/>
<rect x="609.6" y="1134.8" width="7.9" height="64.2" fill="#000"/>
<rect x="618" y="1134.8" width="6.9" height="64.2" fill="#000"/>
<rect x="630" y="1134.8" width="8.3" height="64.2" fill="#000"/>
<rect x="640.2" y="1134.8" width="1.8" height="64.2" fill="#000"/>
<rect x="645.7" y="1134.8" width="1.9" height="64.2" fill="#000"/>
<rect x="650.3" y="1134.8" width="1.9" height="64.2" fill="#000"/>
<rect x="653.6" y="1134.8" width="5.5" height="64.2" fill="#000"/>
<rect x="667" y="1134.8" width="1.8" height="64.2" fill="#000"/>
<rect x="673" y="1134.8" width="4.2" height="64.2" fill="#000"/>
<rect x="680.9" y="1134.8" width="5" height="64.2" fill="#000"/>
<rect x="692.9" y="1134.8" width="3.2" height="64.2" fill="#000"/>
<rect x="698.4" y="1134.8" width="1.4" height="64.2" fill="#000"/>
<rect x="704" y="1134.8" width="6" height="64.2" fill="#000"/>
<rect x="712.8" y="1134.8" width="1.8" height="64.2" fill="#000"/>
<rect x="719.2" y="1134.8" width="1.4" height="64.2" fill="#000"/>
<rect x="733.1" y="1134.8" width="7.9" height="64.2" fill="#000"/>
<rect x="742.8" y="1134.8" width="5.1" height="64.2" fill="#000"/>
<rect x="750.2" y="1134.8" width="3.4" height="64.2" fill="#000"/>
<rect x="754" y="1134.8" width="2.8" height="64.2" fill="#000"/>
<rect x="759.6" y="1134.8" width="3.2" height="64.2" fill="#000"/>
<rect x="771.1" y="1134.8" width="1.9" height="64.2" fill="#000"/>
<rect x="779" y="1134.8" width="1.8" height="64.2" fill="#000"/>
<rect x="785.9" y="1134.8" width="1.9" height="64.2" fill="#000"/>
<rect x="800.7" y="1134.8" width="1.9" height="64.2" fill="#000"/>
<rect x="805.8" y="1134.8" width="1.9" height="64.2" fill="#000"/>
<rect x="811.8" y="1134.8" width="2.3" height="64.2" fill="#000"/>
<rect x="816" y="1134.8" width="1.8" height="64.2" fill="#000"/>
<rect x="819.7" y="1134.8" width="1.4" height="64.2" fill="#000"/>
<rect x="825.7" y="1134.8" width="1.4" height="64.2" fill="#000"/>
<rect x="828.5" y="1134.8" width="4.1" height="64.2" fill="#000"/>
<rect x="838.2" y="1134.8" width="1.4" height="64.2" fill="#000"/>
<rect x="841.4" y="1134.8" width="3.3" height="64.2" fill="#000"/>
<rect x="849.3" y="1134.8" width="1.4" height="64.2" fill="#000"/>
<rect x="860.9" y="1134.8" width="3.2" height="64.2" fill="#000"/>
<rect x="871.5" y="1134.8" width="1.8" height="64.2" fill="#000"/>
<rect x="884.9" y="1134.8" width="1.4" height="64.2" fill="#000"/>
<rect x="890" y="1134.8" width="5.1" height="64.2" fill="#000"/>
<rect x="901.1" y="1134.8" width="1.4" height="64.2" fill="#000"/>
<rect x="904.3" y="1134.8" width="1.4" height="64.2" fill="#000"/>
<rect x="911.3" y="1134.8" width="1.4" height="64.2" fill="#000"/>
<rect x="919.6" y="1134.8" width="1.4" height="64.2" fill="#000"/>
<rect x="578.5" y="1134.8" width="0.8" height="64.2" fill="#fff" fill-opacity="0.4"/>
<rect x="585.6" y="1134.8" width="0.8" height="64.2" fill="#fff" fill-opacity="0.3"/>
<rect x="611.6" y="1134.8" width="0.8" height="64.2" fill="#fff" fill-opacity="0.4"/>
<rect x="614.1" y="1134.8" width="0.8" height="64.2" fill="#fff" fill-opacity="0.3"/>
<rect x="632.6" y="1134.8" width="0.8" height="64.2" fill="#fff" fill-opacity="0.3"/>
<rect x="635.6" y="1134.8" width="0.8" height="64.2" fill="#fff" fill-opacity="0.3"/>
<rect x="682.1" y="1134.8" width="0.8" height="64.2" fill="#fff" fill-opacity="0.4"/>
<rect x="706.6" y="1134.8" width="0.8" height="64.2" fill="#fff" fill-opacity="0.4"/>
<rect x="735.6" y="1134.8" width="0.8" height="64.2" fill="#fff" fill-opacity="0.4"/>
<rect x="738.1" y="1134.8" width="0.8" height="64.2" fill="#fff" fill-opacity="0.3"/>
<rect x="755.1" y="1134.8" width="0.8" height="64.2" fill="#fff" fill-opacity="0.5"/>
<rect x="830.6" y="1134.8" width="0.8" height="64.2" fill="#fff" fill-opacity="0.4"/>
<rect x="892.1" y="1134.8" width="0.8" height="64.2" fill="#fff" fill-opacity="0.4"/>
<rect x="570.9" y="1180.8" width="6.4" height="18.2" fill="#9C0E13" fill-opacity="0.9"/>
<rect x="577.3" y="1180.8" width="72.1" height="18.2" fill="#D22A24" fill-opacity="0.9"/>
<rect x="649.4" y="1180.8" width="49" height="18.2" fill="#EE6446" fill-opacity="0.9"/>
<rect x="698.4" y="1180.8" width="60.2" height="18.2" fill="#EFA589" fill-opacity="0.9"/>
<rect x="758.6" y="1180.8" width="37.5" height="18.2" fill="#F1D9CE" fill-opacity="0.9"/>
<rect x="796.1" y="1180.8" width="50" height="18.2" fill="#E3E6F2" fill-opacity="0.9"/>
<rect x="846.1" y="1180.8" width="32.3" height="18.2" fill="#B3CCDB" fill-opacity="0.9"/>
<rect x="878.4" y="1180.8" width="16.7" height="18.2" fill="#65A5CB" fill-opacity="0.9"/>
<rect x="895.1" y="1180.8" width="28.7" height="18.2" fill="#2E7BB3" fill-opacity="0.9"/>
<rect x="923.8" y="1180.8" width="6.4" height="18.2" fill="#074C94" fill-opacity="0.9"/>
<line x1="570.9" y1="1293.1" x2="930.2" y2="1293.1" stroke="#E6E6E6" stroke-width="1.5"/>
<line x1="570.9" y1="1281.7" x2="930.2" y2="1281.7" stroke="#ECECEC" stroke-width="1.0"/>
<line x1="570.9" y1="1270.3" x2="930.2" y2="1270.3" stroke="#E6E6E6" stroke-width="1.5"/>
<line x1="570.9" y1="1258.9" x2="930.2" y2="1258.9" stroke="#ECECEC" stroke-width="1.0"/>
<line x1="570.9" y1="1247.5" x2="930.2" y2="1247.5" stroke="#E6E6E6" stroke-width="1.5"/>
<line x1="570.9" y1="1236.1" x2="930.2" y2="1236.1" stroke="#ECECEC" stroke-width="1.0"/>
<line x1="570.9" y1="1224.7" x2="930.2" y2="1224.7" stroke="#E6E6E6" stroke-width="1.5"/>
<line x1="570.9" y1="1213.3" x2="930.2" y2="1213.3" stroke="#ECECEC" stroke-width="1.0"/>
<line x1="570.9" y1="1201.9" x2="930.2" y2="1201.9" stroke="#E6E6E6" stroke-width="1.5"/>
<line x1="628.85" y1="1199" x2="628.85" y2="1300.4" stroke="#ECECEC" stroke-width="1.0"/>
<line x1="686.8" y1="1199" x2="686.8" y2="1300.4" stroke="#E6E6E6" stroke-width="1.5"/>
<line x1="744.75" y1="1199" x2="744.75" y2="1300.4" stroke="#ECECEC" stroke-width="1.0"/>
<line x1="802.71" y1="1199" x2="802.71" y2="1300.4" stroke="#E6E6E6" stroke-width="1.5"/>
<line x1="860.66" y1="1199" x2="860.66" y2="1300.4" stroke="#ECECEC" stroke-width="1.0"/>
<line x1="918.61" y1="1199" x2="918.61" y2="1300.4" stroke="#E6E6E6" stroke-width="1.5"/>
<path d="M570.9,1247.5 L570.9,1230.02 L572.7,1231.54 L574.49,1235.34 L577.37,1238.99 L583.12,1241.27 L588.87,1242.94 L603.24,1244.54 L621.2,1245.22 L642.76,1245.68 L671.5,1246.13 L732.59,1246.89 L786.48,1247.5 L822.41,1247.88 L861.21,1248.56 L889.24,1249.78 L907.56,1251.3 L918.34,1252.67 L924.45,1256.01 L927.33,1260.42 L928.76,1266.5 L930.2,1273.34 L930.2,1247.5 Z" fill="#C2C2C2"/>
<rect x="570.9" y="944.3" width="359.3" height="190.5" fill="none" stroke="#111" stroke-width="1.8"/>
<rect x="570.9" y="1134.8" width="359.3" height="64.2" fill="none" stroke="#111" stroke-width="1.8"/>
<rect x="570.9" y="1199" width="359.3" height="101.4" fill="none" stroke="#111" stroke-width="1.8"/>
<line x1="565.4" y1="1116.8" x2="570.9" y2="1116.8" stroke="#333" stroke-width="1.4"/>
<text x="560.6" y="1121.5" font-size="12.7" text-anchor="end" font-weight="normal" fill="#2a2a2a" stroke="#2a2a2a" stroke-width="0.25">0.0</text>
<line x1="565.4" y1="1077.8" x2="570.9" y2="1077.8" stroke="#333" stroke-width="1.4"/>
<text x="560.6" y="1082.5" font-size="12.7" text-anchor="end" font-weight="normal" fill="#2a2a2a" stroke="#2a2a2a" stroke-width="0.25">0.1</text>
<line x1="565.4" y1="1038.8" x2="570.9" y2="1038.8" stroke="#333" stroke-width="1.4"/>
<text x="560.6" y="1043.5" font-size="12.7" text-anchor="end" font-weight="normal" fill="#2a2a2a" stroke="#2a2a2a" stroke-width="0.25">0.2</text>
<line x1="565.4" y1="999.8" x2="570.9" y2="999.8" stroke="#333" stroke-width="1.4"/>
<text x="560.6" y="1004.5" font-size="12.7" text-anchor="end" font-weight="normal" fill="#2a2a2a" stroke="#2a2a2a" stroke-width="0.25">0.3</text>
<line x1="565.4" y1="960.8" x2="570.9" y2="960.8" stroke="#333" stroke-width="1.4"/>
<text x="560.6" y="965.5" font-size="12.7" text-anchor="end" font-weight="normal" fill="#2a2a2a" stroke="#2a2a2a" stroke-width="0.25">0.4</text>
<line x1="565.4" y1="1201.9" x2="570.9" y2="1201.9" stroke="#333" stroke-width="1.4"/>
<text x="560.6" y="1206.6" font-size="12.7" text-anchor="end" font-weight="normal" fill="#2a2a2a" stroke="#2a2a2a" stroke-width="0.25">6</text>
<line x1="565.4" y1="1224.7" x2="570.9" y2="1224.7" stroke="#333" stroke-width="1.4"/>
<text x="560.6" y="1229.4" font-size="12.7" text-anchor="end" font-weight="normal" fill="#2a2a2a" stroke="#2a2a2a" stroke-width="0.25">3</text>
<line x1="565.4" y1="1247.5" x2="570.9" y2="1247.5" stroke="#333" stroke-width="1.4"/>
<text x="560.6" y="1252.2" font-size="12.7" text-anchor="end" font-weight="normal" fill="#2a2a2a" stroke="#2a2a2a" stroke-width="0.25">0</text>
<line x1="565.4" y1="1270.3" x2="570.9" y2="1270.3" stroke="#333" stroke-width="1.4"/>
<text x="560.6" y="1275" font-size="12.7" text-anchor="end" font-weight="normal" fill="#2a2a2a" stroke="#2a2a2a" stroke-width="0.25">-3</text>
<line x1="565.4" y1="1293.1" x2="570.9" y2="1293.1" stroke="#333" stroke-width="1.4"/>
<text x="560.6" y="1297.8" font-size="12.7" text-anchor="end" font-weight="normal" fill="#2a2a2a" stroke="#2a2a2a" stroke-width="0.25">-6</text>
<line x1="686.8" y1="1300.4" x2="686.8" y2="1305.9" stroke="#333" stroke-width="1.4"/>
<text x="686.8" y="1320.6" font-size="12.7" text-anchor="middle" font-weight="normal" fill="#2a2a2a" stroke="#2a2a2a" stroke-width="0.25">5000</text>
<line x1="802.71" y1="1300.4" x2="802.71" y2="1305.9" stroke="#333" stroke-width="1.4"/>
<text x="802.71" y="1320.6" font-size="12.7" text-anchor="middle" font-weight="normal" fill="#2a2a2a" stroke="#2a2a2a" stroke-width="0.25">10000</text>
<line x1="918.61" y1="1300.4" x2="918.61" y2="1305.9" stroke="#333" stroke-width="1.4"/>
<text x="918.61" y="1320.6" font-size="12.7" text-anchor="middle" font-weight="normal" fill="#2a2a2a" stroke="#2a2a2a" stroke-width="0.25">15000</text>
<text x="750.2" y="939.6" font-size="14.9" text-anchor="middle" font-weight="normal" fill="#111" stroke="#111" stroke-width="0.3">KEGG<tspan dy="0.5">_</tspan><tspan dy="-0.5">CELL</tspan><tspan dy="0.5">_</tspan><tspan dy="-0.5">CYCLE</tspan></text>
<text x="750.5" y="1339.3" font-size="14.7" text-anchor="middle" font-weight="normal" fill="#111" stroke="#111" stroke-width="0.3">Rank in Ordered Dataset</text>
<text x="534.4" y="1039.55" font-size="14.7" text-anchor="middle" font-weight="normal" fill="#111" stroke="#111" stroke-width="0.3" transform="rotate(-90 534.4 1039.55)">Enrichment Score</text>
<text x="540.9" y="1249.7" font-size="14.7" text-anchor="middle" font-weight="normal" fill="#111" stroke="#111" stroke-width="0.3" transform="rotate(-90 540.9 1249.7)">Ranked list metric</text>
<rect x="1075.3" y="946.3" width="359" height="355.9" fill="#fff"/>
<clipPath id="cliph"><rect x="1075.3" y="946.3" width="359" height="190.4"/></clipPath>
<g clip-path="url(#cliph)">
<line x1="1075.3" y1="1121.7" x2="1434.3" y2="1121.7" stroke="#E6E6E6" stroke-width="1.5"/>
<line x1="1075.3" y1="1104.15" x2="1434.3" y2="1104.15" stroke="#ECECEC" stroke-width="1.0"/>
<line x1="1075.3" y1="1086.6" x2="1434.3" y2="1086.6" stroke="#E6E6E6" stroke-width="1.5"/>
<line x1="1075.3" y1="1069.05" x2="1434.3" y2="1069.05" stroke="#ECECEC" stroke-width="1.0"/>
<line x1="1075.3" y1="1051.5" x2="1434.3" y2="1051.5" stroke="#E6E6E6" stroke-width="1.5"/>
<line x1="1075.3" y1="1033.95" x2="1434.3" y2="1033.95" stroke="#ECECEC" stroke-width="1.0"/>
<line x1="1075.3" y1="1016.4" x2="1434.3" y2="1016.4" stroke="#E6E6E6" stroke-width="1.5"/>
<line x1="1075.3" y1="998.85" x2="1434.3" y2="998.85" stroke="#ECECEC" stroke-width="1.0"/>
<line x1="1075.3" y1="981.3" x2="1434.3" y2="981.3" stroke="#E6E6E6" stroke-width="1.5"/>
<line x1="1075.3" y1="963.75" x2="1434.3" y2="963.75" stroke="#ECECEC" stroke-width="1.0"/>
<line x1="1133.2" y1="946.3" x2="1133.2" y2="1136.7" stroke="#ECECEC" stroke-width="1.0"/>
<line x1="1191.11" y1="946.3" x2="1191.11" y2="1136.7" stroke="#E6E6E6" stroke-width="1.5"/>
<line x1="1249.01" y1="946.3" x2="1249.01" y2="1136.7" stroke="#ECECEC" stroke-width="1.0"/>
<line x1="1306.91" y1="946.3" x2="1306.91" y2="1136.7" stroke="#E6E6E6" stroke-width="1.5"/>
<line x1="1364.82" y1="946.3" x2="1364.82" y2="1136.7" stroke="#ECECEC" stroke-width="1.0"/>
<line x1="1422.72" y1="946.3" x2="1422.72" y2="1136.7" stroke="#E6E6E6" stroke-width="1.5"/>
<line x1="1075.3" y1="1121.7" x2="1434.3" y2="1121.7" stroke="#9A9A9A" stroke-width="1.6"/>
<polyline points="1075.8,1121.7 1076.3,1122.9 1081.4,1127.9 1082.1,1110.5 1082.9,1093.2 1085,1095.3 1085.8,1080.1 1087.2,1081.6 1087.9,1054.8 1091.6,1058.4 1092.3,1047.5 1095.9,1051.2 1096.6,1041 1098.8,1042.5 1100.2,1015 1101.7,1007.7 1103.1,1000.5 1105.3,991.8 1107.5,987.4 1108.9,979.5 1111.1,978.8 1112.6,958.5 1136.4,981.7 1137.2,976.6 1143,982.4 1145.9,970.1 1148,959.2 1150.9,958.5 1153.1,960.7 1155.3,957.8 1160.3,962.1 1163.2,955.6 1171.9,962.8 1173.4,960.7 1176.05,961.11 1176.05,959.53 1178.4,959.93 1178.4,958.5 1182.8,959.9 1189.3,964.3 1192.2,961.4 1198,963.6 1200.2,962.8 1208.9,970.8 1213.2,973 1214.7,970.1 1222.6,975.9 1240,991.8 1248.7,999 1252,1001.2 1263.6,1012.8 1281,1030.9 1307,1054.1 1317.2,1060.6 1327.3,1068.5 1341.8,1081.6 1365,1102.6 1366.4,1100.4 1369.3,1103.3 1372.2,1097.5 1373.66,1097.99 1373.66,1096.75 1375.43,1097.23 1375.43,1095.85 1376.5,1096.02 1376.5,1095.3 1387.4,1104 1388.1,1101.1 1394.7,1107.6 1396.8,1099.7 1399.7,1097.5 1401.9,1099 1404.8,1092.4 1433.8,1120.5" fill="none" stroke="#4DADC4" stroke-width="2.0" stroke-linejoin="round"/>
</g>
<text x="1427.2" y="963.2" font-size="10.3" text-anchor="end" font-weight="normal" fill="#222" stroke="#222" stroke-width="0.25">NES = 1.556</text>
<text x="1427.2" y="979" font-size="10.3" text-anchor="end" font-weight="normal" fill="#222" stroke="#222" stroke-width="0.25">p.adj = 0.221</text>
<text x="1427.2" y="994.4" font-size="10.3" text-anchor="end" font-weight="normal" fill="#222" stroke="#222" stroke-width="0.25">FDR = 0.203</text>
<rect x="1081.3" y="1136.7" width="1.3" height="64.1" fill="#000"/>
<rect x="1085" y="1136.7" width="2.7" height="64.1" fill="#000"/>
<rect x="1091" y="1136.7" width="1.4" height="64.1" fill="#000"/>
<rect x="1095.1" y="1136.7" width="1.4" height="64.1" fill="#000"/>
<rect x="1098.4" y="1136.7" width="5.1" height="64.1" fill="#000"/>
<rect x="1104.2" y="1136.7" width="1" height="64.1" fill="#000"/>
<rect x="1107.2" y="1136.7" width="5.5" height="64.1" fill="#000"/>
<rect x="1136.3" y="1136.7" width="1.4" height="64.1" fill="#000"/>
<rect x="1143.2" y="1136.7" width="4.7" height="64.1" fill="#000"/>
<rect x="1150.6" y="1136.7" width="1.4" height="64.1" fill="#000"/>
<rect x="1155.3" y="1136.7" width="1.3" height="64.1" fill="#000"/>
<rect x="1161.3" y="1136.7" width="2.3" height="64.1" fill="#000"/>
<rect x="1171" y="1136.7" width="1.4" height="64.1" fill="#000"/>
<rect x="1175.1" y="1136.7" width="3.7" height="64.1" fill="#000"/>
<rect x="1182.1" y="1136.7" width="1.4" height="64.1" fill="#000"/>
<rect x="1188.6" y="1136.7" width="3.7" height="64.1" fill="#000"/>
<rect x="1195.5" y="1136.7" width="1.4" height="64.1" fill="#000"/>
<rect x="1199.2" y="1136.7" width="1.4" height="64.1" fill="#000"/>
<rect x="1208.4" y="1136.7" width="1.9" height="64.1" fill="#000"/>
<rect x="1213.1" y="1136.7" width="1.8" height="64.1" fill="#000"/>
<rect x="1220.9" y="1136.7" width="1.9" height="64.1" fill="#000"/>
<rect x="1239.4" y="1136.7" width="1.9" height="64.1" fill="#000"/>
<rect x="1247.8" y="1136.7" width="1.8" height="64.1" fill="#000"/>
<rect x="1262.6" y="1136.7" width="1.4" height="64.1" fill="#000"/>
<rect x="1265" y="1136.7" width="1.8" height="64.1" fill="#000"/>
<rect x="1277.9" y="1136.7" width="1.9" height="64.1" fill="#000"/>
<rect x="1284.8" y="1136.7" width="1.9" height="64.1" fill="#000"/>
<rect x="1295" y="1136.7" width="1.4" height="64.1" fill="#000"/>
<rect x="1302" y="1136.7" width="1.8" height="64.1" fill="#000"/>
<rect x="1309.8" y="1136.7" width="1.4" height="64.1" fill="#000"/>
<rect x="1313.5" y="1136.7" width="1.4" height="64.1" fill="#000"/>
<rect x="1316.8" y="1136.7" width="1.3" height="64.1" fill="#000"/>
<rect x="1326.9" y="1136.7" width="1.9" height="64.1" fill="#000"/>
<rect x="1342.7" y="1136.7" width="1.3" height="64.1" fill="#000"/>
<rect x="1365.3" y="1136.7" width="1.4" height="64.1" fill="#000"/>
<rect x="1370" y="1136.7" width="3.2" height="64.1" fill="#000"/>
<rect x="1374" y="1136.7" width="1" height="64.1" fill="#000"/>
<rect x="1376" y="1136.7" width="1.3" height="64.1" fill="#000"/>
<rect x="1386.6" y="1136.7" width="1.4" height="64.1" fill="#000"/>
<rect x="1394.5" y="1136.7" width="2.7" height="64.1" fill="#000"/>
<rect x="1399.1" y="1136.7" width="1.4" height="64.1" fill="#000"/>
<rect x="1403.7" y="1136.7" width="1.4" height="64.1" fill="#000"/>
<rect x="1085.9" y="1136.7" width="0.8" height="64.1" fill="#fff" fill-opacity="0.4"/>
<rect x="1108.2" y="1136.7" width="0.8" height="64.1" fill="#fff" fill-opacity="0.4"/>
<rect x="1176.5" y="1136.7" width="0.8" height="64.1" fill="#fff" fill-opacity="0.4"/>
<rect x="1190" y="1136.7" width="0.8" height="64.1" fill="#fff" fill-opacity="0.4"/>
<rect x="1075.3" y="1182.8" width="29.5" height="18" fill="#9C0E13" fill-opacity="0.9"/>
<rect x="1104.8" y="1182.8" width="32.9" height="18" fill="#D22A24" fill-opacity="0.9"/>
<rect x="1137.7" y="1182.8" width="69.4" height="18" fill="#EE6446" fill-opacity="0.9"/>
<rect x="1207.1" y="1182.8" width="62" height="18" fill="#EFA589" fill-opacity="0.9"/>
<rect x="1269.1" y="1182.8" width="50.4" height="18" fill="#F1D9CE" fill-opacity="0.9"/>
<rect x="1319.5" y="1182.8" width="39.8" height="18" fill="#E3E6F2" fill-opacity="0.9"/>
<rect x="1359.3" y="1182.8" width="40.2" height="18" fill="#B3CCDB" fill-opacity="0.9"/>
<rect x="1399.5" y="1182.8" width="11.2" height="18" fill="#65A5CB" fill-opacity="0.9"/>
<rect x="1410.7" y="1182.8" width="17.5" height="18" fill="#2E7BB3" fill-opacity="0.9"/>
<rect x="1428.2" y="1182.8" width="6.1" height="18" fill="#074C94" fill-opacity="0.9"/>
<line x1="1075.3" y1="1294.8" x2="1434.3" y2="1294.8" stroke="#E6E6E6" stroke-width="1.5"/>
<line x1="1075.3" y1="1283.55" x2="1434.3" y2="1283.55" stroke="#ECECEC" stroke-width="1.0"/>
<line x1="1075.3" y1="1272.3" x2="1434.3" y2="1272.3" stroke="#E6E6E6" stroke-width="1.5"/>
<line x1="1075.3" y1="1261.05" x2="1434.3" y2="1261.05" stroke="#ECECEC" stroke-width="1.0"/>
<line x1="1075.3" y1="1249.8" x2="1434.3" y2="1249.8" stroke="#E6E6E6" stroke-width="1.5"/>
<line x1="1075.3" y1="1238.55" x2="1434.3" y2="1238.55" stroke="#ECECEC" stroke-width="1.0"/>
<line x1="1075.3" y1="1227.3" x2="1434.3" y2="1227.3" stroke="#E6E6E6" stroke-width="1.5"/>
<line x1="1075.3" y1="1216.05" x2="1434.3" y2="1216.05" stroke="#ECECEC" stroke-width="1.0"/>
<line x1="1075.3" y1="1204.8" x2="1434.3" y2="1204.8" stroke="#E6E6E6" stroke-width="1.5"/>
<line x1="1133.2" y1="1200.8" x2="1133.2" y2="1302.2" stroke="#ECECEC" stroke-width="1.0"/>
<line x1="1191.11" y1="1200.8" x2="1191.11" y2="1302.2" stroke="#E6E6E6" stroke-width="1.5"/>
<line x1="1249.01" y1="1200.8" x2="1249.01" y2="1302.2" stroke="#ECECEC" stroke-width="1.0"/>
<line x1="1306.91" y1="1200.8" x2="1306.91" y2="1302.2" stroke="#E6E6E6" stroke-width="1.5"/>
<line x1="1364.82" y1="1200.8" x2="1364.82" y2="1302.2" stroke="#ECECEC" stroke-width="1.0"/>
<line x1="1422.72" y1="1200.8" x2="1422.72" y2="1302.2" stroke="#E6E6E6" stroke-width="1.5"/>
<path d="M1075.3,1249.8 L1075.3,1232.55 L1077.1,1234.05 L1078.89,1237.8 L1081.76,1241.4 L1087.51,1243.65 L1093.25,1245.3 L1107.61,1246.88 L1125.56,1247.55 L1147.1,1248 L1175.82,1248.45 L1236.85,1249.2 L1290.7,1249.8 L1326.6,1250.17 L1365.37,1250.85 L1393.37,1252.05 L1411.68,1253.55 L1422.45,1254.9 L1428.56,1258.2 L1431.43,1262.55 L1432.86,1268.55 L1434.3,1275.3 L1434.3,1249.8 Z" fill="#C2C2C2"/>
<rect x="1075.3" y="946.3" width="359" height="190.4" fill="none" stroke="#111" stroke-width="1.8"/>
<rect x="1075.3" y="1136.7" width="359" height="64.1" fill="none" stroke="#111" stroke-width="1.8"/>
<rect x="1075.3" y="1200.8" width="359" height="101.4" fill="none" stroke="#111" stroke-width="1.8"/>
<line x1="1069.8" y1="1121.7" x2="1075.3" y2="1121.7" stroke="#333" stroke-width="1.4"/>
<text x="1065" y="1126.4" font-size="12.7" text-anchor="end" font-weight="normal" fill="#2a2a2a" stroke="#2a2a2a" stroke-width="0.25">0.0</text>
<line x1="1069.8" y1="1086.6" x2="1075.3" y2="1086.6" stroke="#333" stroke-width="1.4"/>
<text x="1065" y="1091.3" font-size="12.7" text-anchor="end" font-weight="normal" fill="#2a2a2a" stroke="#2a2a2a" stroke-width="0.25">0.1</text>
<line x1="1069.8" y1="1051.5" x2="1075.3" y2="1051.5" stroke="#333" stroke-width="1.4"/>
<text x="1065" y="1056.2" font-size="12.7" text-anchor="end" font-weight="normal" fill="#2a2a2a" stroke="#2a2a2a" stroke-width="0.25">0.2</text>
<line x1="1069.8" y1="1016.4" x2="1075.3" y2="1016.4" stroke="#333" stroke-width="1.4"/>
<text x="1065" y="1021.1" font-size="12.7" text-anchor="end" font-weight="normal" fill="#2a2a2a" stroke="#2a2a2a" stroke-width="0.25">0.3</text>
<line x1="1069.8" y1="981.3" x2="1075.3" y2="981.3" stroke="#333" stroke-width="1.4"/>
<text x="1065" y="986" font-size="12.7" text-anchor="end" font-weight="normal" fill="#2a2a2a" stroke="#2a2a2a" stroke-width="0.25">0.4</text>
<line x1="1069.8" y1="1204.8" x2="1075.3" y2="1204.8" stroke="#333" stroke-width="1.4"/>
<text x="1065" y="1209.5" font-size="12.7" text-anchor="end" font-weight="normal" fill="#2a2a2a" stroke="#2a2a2a" stroke-width="0.25">6</text>
<line x1="1069.8" y1="1227.3" x2="1075.3" y2="1227.3" stroke="#333" stroke-width="1.4"/>
<text x="1065" y="1232" font-size="12.7" text-anchor="end" font-weight="normal" fill="#2a2a2a" stroke="#2a2a2a" stroke-width="0.25">3</text>
<line x1="1069.8" y1="1249.8" x2="1075.3" y2="1249.8" stroke="#333" stroke-width="1.4"/>
<text x="1065" y="1254.5" font-size="12.7" text-anchor="end" font-weight="normal" fill="#2a2a2a" stroke="#2a2a2a" stroke-width="0.25">0</text>
<line x1="1069.8" y1="1272.3" x2="1075.3" y2="1272.3" stroke="#333" stroke-width="1.4"/>
<text x="1065" y="1277" font-size="12.7" text-anchor="end" font-weight="normal" fill="#2a2a2a" stroke="#2a2a2a" stroke-width="0.25">-3</text>
<line x1="1069.8" y1="1294.8" x2="1075.3" y2="1294.8" stroke="#333" stroke-width="1.4"/>
<text x="1065" y="1299.5" font-size="12.7" text-anchor="end" font-weight="normal" fill="#2a2a2a" stroke="#2a2a2a" stroke-width="0.25">-6</text>
<line x1="1191.11" y1="1302.2" x2="1191.11" y2="1307.7" stroke="#333" stroke-width="1.4"/>
<text x="1191.11" y="1322.9" font-size="12.7" text-anchor="middle" font-weight="normal" fill="#2a2a2a" stroke="#2a2a2a" stroke-width="0.25">5000</text>
<line x1="1306.91" y1="1302.2" x2="1306.91" y2="1307.7" stroke="#333" stroke-width="1.4"/>
<text x="1306.91" y="1322.9" font-size="12.7" text-anchor="middle" font-weight="normal" fill="#2a2a2a" stroke="#2a2a2a" stroke-width="0.25">10000</text>
<line x1="1422.72" y1="1302.2" x2="1422.72" y2="1307.7" stroke="#333" stroke-width="1.4"/>
<text x="1422.72" y="1322.9" font-size="12.7" text-anchor="middle" font-weight="normal" fill="#2a2a2a" stroke="#2a2a2a" stroke-width="0.25">15000</text>
<text x="1254.8" y="941.3" font-size="14.9" text-anchor="middle" font-weight="normal" fill="#111" stroke="#111" stroke-width="0.3">KEGG<tspan dy="0.5">_</tspan><tspan dy="-0.5">P53</tspan><tspan dy="0.5">_</tspan><tspan dy="-0.5">SIGNALING</tspan><tspan dy="0.5">_</tspan><tspan dy="-0.5">PATHWAY</tspan></text>
<text x="1255" y="1341.6" font-size="14.7" text-anchor="middle" font-weight="normal" fill="#111" stroke="#111" stroke-width="0.3">Rank in Ordered Dataset</text>
<text x="1038.8" y="1041.5" font-size="14.7" text-anchor="middle" font-weight="normal" fill="#111" stroke="#111" stroke-width="0.3" transform="rotate(-90 1038.8 1041.5)">Enrichment Score</text>
<text x="1045.3" y="1251.5" font-size="14.7" text-anchor="middle" font-weight="normal" fill="#111" stroke="#111" stroke-width="0.3" transform="rotate(-90 1045.3 1251.5)">Ranked list metric</text>
<rect x="1576.3" y="946.4" width="355.2" height="355.8" fill="#fff"/>
<clipPath id="clipi"><rect x="1576.3" y="946.4" width="355.2" height="190.3"/></clipPath>
<g clip-path="url(#clipi)">
<line x1="1576.3" y1="1135.7" x2="1931.5" y2="1135.7" stroke="#E6E6E6" stroke-width="1.5"/>
<line x1="1576.3" y1="1118.05" x2="1931.5" y2="1118.05" stroke="#ECECEC" stroke-width="1.0"/>
<line x1="1576.3" y1="1100.4" x2="1931.5" y2="1100.4" stroke="#E6E6E6" stroke-width="1.5"/>
<line x1="1576.3" y1="1082.75" x2="1931.5" y2="1082.75" stroke="#ECECEC" stroke-width="1.0"/>
<line x1="1576.3" y1="1065.1" x2="1931.5" y2="1065.1" stroke="#E6E6E6" stroke-width="1.5"/>
<line x1="1576.3" y1="1047.45" x2="1931.5" y2="1047.45" stroke="#ECECEC" stroke-width="1.0"/>
<line x1="1576.3" y1="1029.8" x2="1931.5" y2="1029.8" stroke="#E6E6E6" stroke-width="1.5"/>
<line x1="1576.3" y1="1012.15" x2="1931.5" y2="1012.15" stroke="#ECECEC" stroke-width="1.0"/>
<line x1="1576.3" y1="994.5" x2="1931.5" y2="994.5" stroke="#E6E6E6" stroke-width="1.5"/>
<line x1="1576.3" y1="976.85" x2="1931.5" y2="976.85" stroke="#ECECEC" stroke-width="1.0"/>
<line x1="1576.3" y1="959.2" x2="1931.5" y2="959.2" stroke="#E6E6E6" stroke-width="1.5"/>
<line x1="1633.59" y1="946.4" x2="1633.59" y2="1136.7" stroke="#ECECEC" stroke-width="1.0"/>
<line x1="1690.88" y1="946.4" x2="1690.88" y2="1136.7" stroke="#E6E6E6" stroke-width="1.5"/>
<line x1="1748.17" y1="946.4" x2="1748.17" y2="1136.7" stroke="#ECECEC" stroke-width="1.0"/>
<line x1="1805.46" y1="946.4" x2="1805.46" y2="1136.7" stroke="#E6E6E6" stroke-width="1.5"/>
<line x1="1862.75" y1="946.4" x2="1862.75" y2="1136.7" stroke="#ECECEC" stroke-width="1.0"/>
<line x1="1920.04" y1="946.4" x2="1920.04" y2="1136.7" stroke="#E6E6E6" stroke-width="1.5"/>
<line x1="1576.3" y1="1100.4" x2="1931.5" y2="1100.4" stroke="#9A9A9A" stroke-width="1.6"/>
<polyline points="1576.6,1100.4 1577.1,1080.1 1578.5,1055.5 1579.2,1039.6 1581.4,1041 1582.1,1030.9 1584.3,1030.9 1585.8,1017.9 1588.7,1020.8 1590.1,1014.2 1591.6,1015 1593,1002.7 1595.9,996.1 1598.8,998.3 1601.7,988.9 1604.6,991.1 1607.5,973.7 1610.4,973 1612.89,973.82 1612.89,970.12 1614.24,970.67 1614.24,968.55 1615.4,968.95 1615.4,967.2 1618.3,962.1 1624.1,965.7 1626.19,966.57 1626.19,962.03 1627.8,962.29 1627.8,959.2 1634.3,957.8 1640.8,959.2 1643,955.6 1648,960.7 1651.7,959.2 1653.8,955.6 1659.6,959.9 1662.5,958.5 1669,965 1671.9,963.6 1677.7,968.6 1685,972.2 1690.8,978 1695.1,979.5 1702.3,985.3 1709.6,989.6 1716.8,991.1 1722.6,993.2 1731.3,1001.2 1742.9,1009.2 1752,1016.4 1766.5,1029.4 1783.9,1046.8 1799.8,1062.8 1815.7,1077.2 1828.8,1087.4 1838.9,1093.2 1846.1,1099 1853.4,1100.4 1862.1,1104.8 1872.2,1114.2 1883.8,1121.4 1885.84,1121.78 1885.84,1120.36 1888.1,1121.11 1888.1,1119.2 1898.3,1127.2 1901.2,1125.8 1903.6,1126.66 1903.6,1124.57 1906.23,1125.34 1906.23,1123.22 1908.4,1123.68 1908.4,1122.1 1911.3,1121.4 1912.93,1121.92 1912.93,1120.58 1914.35,1120.99 1914.35,1119.87 1917.14,1120.63 1917.14,1118.48 1918.5,1119.04 1918.5,1117.8 1920,1112.7 1922.97,1114 1922.97,1109.73 1924.3,1110.15 1924.3,1108.4 1928,1111.3 1929.4,1098.2 1931,1096" fill="none" stroke="#4DADC4" stroke-width="2.0" stroke-linejoin="round"/>
</g>
<text x="1924" y="963.2" font-size="10.3" text-anchor="end" font-weight="normal" fill="#222" stroke="#222" stroke-width="0.25">NES = 1.592</text>
<text x="1924" y="979" font-size="10.3" text-anchor="end" font-weight="normal" fill="#222" stroke="#222" stroke-width="0.25">p.adj = 0.086</text>
<text x="1924" y="994.4" font-size="10.3" text-anchor="end" font-weight="normal" fill="#222" stroke="#222" stroke-width="0.25">FDR = 0.079</text>
<rect x="1576.3" y="1136.7" width="9.7" height="64.1" fill="#000"/>
<rect x="1587.8" y="1136.7" width="31.5" height="64.1" fill="#000"/>
<rect x="1621.6" y="1136.7" width="21.7" height="64.1" fill="#000"/>
<rect x="1647.5" y="1136.7" width="6.9" height="64.1" fill="#000"/>
<rect x="1658.6" y="1136.7" width="4.1" height="64.1" fill="#000"/>
<rect x="1669.7" y="1136.7" width="2.3" height="64.1" fill="#000"/>
<rect x="1677.1" y="1136.7" width="1.8" height="64.1" fill="#000"/>
<rect x="1683.5" y="1136.7" width="1.4" height="64.1" fill="#000"/>
<rect x="1691.9" y="1136.7" width="5.5" height="64.1" fill="#000"/>
<rect x="1702" y="1136.7" width="22.7" height="64.1" fill="#000"/>
<rect x="1730.3" y="1136.7" width="1.8" height="64.1" fill="#000"/>
<rect x="1734.4" y="1136.7" width="9.7" height="64.1" fill="#000"/>
<rect x="1747.4" y="1136.7" width="3.2" height="64.1" fill="#000"/>
<rect x="1755.7" y="1136.7" width="1.9" height="64.1" fill="#000"/>
<rect x="1762.6" y="1136.7" width="1.4" height="64.1" fill="#000"/>
<rect x="1771.9" y="1136.7" width="3.2" height="64.1" fill="#000"/>
<rect x="1778.4" y="1136.7" width="1.4" height="64.1" fill="#000"/>
<rect x="1784.4" y="1136.7" width="1.4" height="64.1" fill="#000"/>
<rect x="1789.9" y="1136.7" width="2.8" height="64.1" fill="#000"/>
<rect x="1796.9" y="1136.7" width="1.4" height="64.1" fill="#000"/>
<rect x="1802" y="1136.7" width="2.7" height="64.1" fill="#000"/>
<rect x="1810.7" y="1136.7" width="1.4" height="64.1" fill="#000"/>
<rect x="1815.4" y="1136.7" width="6.9" height="64.1" fill="#000"/>
<rect x="1827.4" y="1136.7" width="6.9" height="64.1" fill="#000"/>
<rect x="1836.6" y="1136.7" width="3.3" height="64.1" fill="#000"/>
<rect x="1845.4" y="1136.7" width="11.1" height="64.1" fill="#000"/>
<rect x="1859.3" y="1136.7" width="1.4" height="64.1" fill="#000"/>
<rect x="1867.6" y="1136.7" width="1.4" height="64.1" fill="#000"/>
<rect x="1873.2" y="1136.7" width="3.7" height="64.1" fill="#000"/>
<rect x="1879.2" y="1136.7" width="1.4" height="64.1" fill="#000"/>
<rect x="1883.4" y="1136.7" width="5" height="64.1" fill="#000"/>
<rect x="1896.8" y="1136.7" width="2.3" height="64.1" fill="#000"/>
<rect x="1900" y="1136.7" width="2.8" height="64.1" fill="#000"/>
<rect x="1904.6" y="1136.7" width="4.7" height="64.1" fill="#000"/>
<rect x="1911.1" y="1136.7" width="5.6" height="64.1" fill="#000"/>
<rect x="1917.6" y="1136.7" width="6.5" height="64.1" fill="#000"/>
<rect x="1927.8" y="1136.7" width="3.2" height="64.1" fill="#000"/>
<rect x="1597.1" y="1136.7" width="0.8" height="64.1" fill="#fff" fill-opacity="0.6"/>
<rect x="1602.2" y="1136.7" width="0.8" height="64.1" fill="#fff" fill-opacity="0.6"/>
<rect x="1610.5" y="1136.7" width="0.8" height="64.1" fill="#fff" fill-opacity="0.6"/>
<rect x="1623" y="1136.7" width="0.8" height="64.1" fill="#fff" fill-opacity="0.6"/>
<rect x="1635.5" y="1136.7" width="0.8" height="64.1" fill="#fff" fill-opacity="0.4"/>
<rect x="1638.3" y="1136.7" width="0.8" height="64.1" fill="#fff" fill-opacity="0.6"/>
<rect x="1703.9" y="1136.7" width="0.8" height="64.1" fill="#fff" fill-opacity="0.5"/>
<rect x="1705.8" y="1136.7" width="0.8" height="64.1" fill="#fff" fill-opacity="0.6"/>
<rect x="1712.3" y="1136.7" width="0.8" height="64.1" fill="#fff" fill-opacity="0.6"/>
<rect x="1721.5" y="1136.7" width="0.8" height="64.1" fill="#fff" fill-opacity="0.6"/>
<rect x="1740.6" y="1136.7" width="0.8" height="64.1" fill="#fff" fill-opacity="0.35"/>
<rect x="1790.9" y="1136.7" width="0.8" height="64.1" fill="#fff" fill-opacity="0.4"/>
<rect x="1817.6" y="1136.7" width="0.8" height="64.1" fill="#fff" fill-opacity="0.35"/>
<rect x="1829.6" y="1136.7" width="0.8" height="64.1" fill="#fff" fill-opacity="0.35"/>
<rect x="1849.6" y="1136.7" width="0.8" height="64.1" fill="#fff" fill-opacity="0.3"/>
<rect x="1874.6" y="1136.7" width="0.8" height="64.1" fill="#fff" fill-opacity="0.35"/>
<rect x="1885.6" y="1136.7" width="0.8" height="64.1" fill="#fff" fill-opacity="0.4"/>
<rect x="1901.1" y="1136.7" width="0.8" height="64.1" fill="#fff" fill-opacity="0.4"/>
<rect x="1906.6" y="1136.7" width="0.8" height="64.1" fill="#fff" fill-opacity="0.35"/>
<rect x="1913.6" y="1136.7" width="0.8" height="64.1" fill="#fff" fill-opacity="0.35"/>
<rect x="1920.6" y="1136.7" width="0.8" height="64.1" fill="#fff" fill-opacity="0.3"/>
<rect x="1576.3" y="1182.8" width="46.7" height="18" fill="#D22A24" fill-opacity="0.9"/>
<rect x="1623" y="1182.8" width="54.5" height="18" fill="#EE6446" fill-opacity="0.9"/>
<rect x="1677.5" y="1182.8" width="66.2" height="18" fill="#EFA589" fill-opacity="0.9"/>
<rect x="1743.7" y="1182.8" width="48.1" height="18" fill="#F1D9CE" fill-opacity="0.9"/>
<rect x="1791.8" y="1182.8" width="53.6" height="18" fill="#E3E6F2" fill-opacity="0.9"/>
<rect x="1845.4" y="1182.8" width="34.7" height="18" fill="#B3CCDB" fill-opacity="0.9"/>
<rect x="1880.1" y="1182.8" width="25" height="18" fill="#65A5CB" fill-opacity="0.9"/>
<rect x="1905.1" y="1182.8" width="26.4" height="18" fill="#2E7BB3" fill-opacity="0.9"/>
<line x1="1576.3" y1="1294.8" x2="1931.5" y2="1294.8" stroke="#E6E6E6" stroke-width="1.5"/>
<line x1="1576.3" y1="1283.55" x2="1931.5" y2="1283.55" stroke="#ECECEC" stroke-width="1.0"/>
<line x1="1576.3" y1="1272.3" x2="1931.5" y2="1272.3" stroke="#E6E6E6" stroke-width="1.5"/>
<line x1="1576.3" y1="1261.05" x2="1931.5" y2="1261.05" stroke="#ECECEC" stroke-width="1.0"/>
<line x1="1576.3" y1="1249.8" x2="1931.5" y2="1249.8" stroke="#E6E6E6" stroke-width="1.5"/>
<line x1="1576.3" y1="1238.55" x2="1931.5" y2="1238.55" stroke="#ECECEC" stroke-width="1.0"/>
<line x1="1576.3" y1="1227.3" x2="1931.5" y2="1227.3" stroke="#E6E6E6" stroke-width="1.5"/>
<line x1="1576.3" y1="1216.05" x2="1931.5" y2="1216.05" stroke="#ECECEC" stroke-width="1.0"/>
<line x1="1576.3" y1="1204.8" x2="1931.5" y2="1204.8" stroke="#E6E6E6" stroke-width="1.5"/>
<line x1="1633.59" y1="1200.8" x2="1633.59" y2="1302.2" stroke="#ECECEC" stroke-width="1.0"/>
<line x1="1690.88" y1="1200.8" x2="1690.88" y2="1302.2" stroke="#E6E6E6" stroke-width="1.5"/>
<line x1="1748.17" y1="1200.8" x2="1748.17" y2="1302.2" stroke="#ECECEC" stroke-width="1.0"/>
<line x1="1805.46" y1="1200.8" x2="1805.46" y2="1302.2" stroke="#E6E6E6" stroke-width="1.5"/>
<line x1="1862.75" y1="1200.8" x2="1862.75" y2="1302.2" stroke="#ECECEC" stroke-width="1.0"/>
<line x1="1920.04" y1="1200.8" x2="1920.04" y2="1302.2" stroke="#E6E6E6" stroke-width="1.5"/>
<path d="M1576.3,1249.8 L1576.3,1232.55 L1578.08,1234.05 L1579.85,1237.8 L1582.69,1241.4 L1588.38,1243.65 L1594.06,1245.3 L1608.27,1246.88 L1626.03,1247.55 L1647.34,1248 L1675.76,1248.45 L1736.14,1249.2 L1789.42,1249.8 L1824.94,1250.17 L1863.3,1250.85 L1891.01,1252.05 L1909.12,1253.55 L1919.78,1254.9 L1925.82,1258.2 L1928.66,1262.55 L1930.08,1268.55 L1931.5,1275.3 L1931.5,1249.8 Z" fill="#C2C2C2"/>
<rect x="1576.3" y="946.4" width="355.2" height="190.3" fill="none" stroke="#111" stroke-width="1.8"/>
<rect x="1576.3" y="1136.7" width="355.2" height="64.1" fill="none" stroke="#111" stroke-width="1.8"/>
<rect x="1576.3" y="1200.8" width="355.2" height="101.4" fill="none" stroke="#111" stroke-width="1.8"/>
<line x1="1570.8" y1="1135.7" x2="1576.3" y2="1135.7" stroke="#333" stroke-width="1.4"/>
<text x="1566" y="1140.4" font-size="12.7" text-anchor="end" font-weight="normal" fill="#2a2a2a" stroke="#2a2a2a" stroke-width="0.25">-0.1</text>
<line x1="1570.8" y1="1100.4" x2="1576.3" y2="1100.4" stroke="#333" stroke-width="1.4"/>
<text x="1566" y="1105.1" font-size="12.7" text-anchor="end" font-weight="normal" fill="#2a2a2a" stroke="#2a2a2a" stroke-width="0.25">0.0</text>
<line x1="1570.8" y1="1065.1" x2="1576.3" y2="1065.1" stroke="#333" stroke-width="1.4"/>
<text x="1566" y="1069.8" font-size="12.7" text-anchor="end" font-weight="normal" fill="#2a2a2a" stroke="#2a2a2a" stroke-width="0.25">0.1</text>
<line x1="1570.8" y1="1029.8" x2="1576.3" y2="1029.8" stroke="#333" stroke-width="1.4"/>
<text x="1566" y="1034.5" font-size="12.7" text-anchor="end" font-weight="normal" fill="#2a2a2a" stroke="#2a2a2a" stroke-width="0.25">0.2</text>
<line x1="1570.8" y1="994.5" x2="1576.3" y2="994.5" stroke="#333" stroke-width="1.4"/>
<text x="1566" y="999.2" font-size="12.7" text-anchor="end" font-weight="normal" fill="#2a2a2a" stroke="#2a2a2a" stroke-width="0.25">0.3</text>
<line x1="1570.8" y1="959.2" x2="1576.3" y2="959.2" stroke="#333" stroke-width="1.4"/>
<text x="1566" y="963.9" font-size="12.7" text-anchor="end" font-weight="normal" fill="#2a2a2a" stroke="#2a2a2a" stroke-width="0.25">0.4</text>
<line x1="1570.8" y1="1204.8" x2="1576.3" y2="1204.8" stroke="#333" stroke-width="1.4"/>
<text x="1566" y="1209.5" font-size="12.7" text-anchor="end" font-weight="normal" fill="#2a2a2a" stroke="#2a2a2a" stroke-width="0.25">6</text>
<line x1="1570.8" y1="1227.3" x2="1576.3" y2="1227.3" stroke="#333" stroke-width="1.4"/>
<text x="1566" y="1232" font-size="12.7" text-anchor="end" font-weight="normal" fill="#2a2a2a" stroke="#2a2a2a" stroke-width="0.25">3</text>
<line x1="1570.8" y1="1249.8" x2="1576.3" y2="1249.8" stroke="#333" stroke-width="1.4"/>
<text x="1566" y="1254.5" font-size="12.7" text-anchor="end" font-weight="normal" fill="#2a2a2a" stroke="#2a2a2a" stroke-width="0.25">0</text>
<line x1="1570.8" y1="1272.3" x2="1576.3" y2="1272.3" stroke="#333" stroke-width="1.4"/>
<text x="1566" y="1277" font-size="12.7" text-anchor="end" font-weight="normal" fill="#2a2a2a" stroke="#2a2a2a" stroke-width="0.25">-3</text>
<line x1="1570.8" y1="1294.8" x2="1576.3" y2="1294.8" stroke="#333" stroke-width="1.4"/>
<text x="1566" y="1299.5" font-size="12.7" text-anchor="end" font-weight="normal" fill="#2a2a2a" stroke="#2a2a2a" stroke-width="0.25">-6</text>
<line x1="1690.88" y1="1302.2" x2="1690.88" y2="1307.7" stroke="#333" stroke-width="1.4"/>
<text x="1690.88" y="1322.9" font-size="12.7" text-anchor="middle" font-weight="normal" fill="#2a2a2a" stroke="#2a2a2a" stroke-width="0.25">5000</text>
<line x1="1805.46" y1="1302.2" x2="1805.46" y2="1307.7" stroke="#333" stroke-width="1.4"/>
<text x="1805.46" y="1322.9" font-size="12.7" text-anchor="middle" font-weight="normal" fill="#2a2a2a" stroke="#2a2a2a" stroke-width="0.25">10000</text>
<line x1="1920.04" y1="1302.2" x2="1920.04" y2="1307.7" stroke="#333" stroke-width="1.4"/>
<text x="1920.04" y="1322.9" font-size="12.7" text-anchor="middle" font-weight="normal" fill="#2a2a2a" stroke="#2a2a2a" stroke-width="0.25">15000</text>
<text x="1744" y="940.8" font-size="17.3" text-anchor="middle" font-weight="normal" fill="#111" stroke="#111" stroke-width="0.3">REACTOME<tspan dy="0.5">_</tspan><tspan dy="-0.5">METABOLISM</tspan><tspan dy="0.5">_</tspan><tspan dy="-0.5">OF</tspan><tspan dy="0.5">_</tspan><tspan dy="-0.5">VITAMINS</tspan><tspan dy="0.5">_</tspan><tspan dy="-0.5">AND</tspan><tspan dy="0.5">_</tspan><tspan dy="-0.5">COFACTORS</tspan></text>
<text x="1754" y="1341.6" font-size="14.7" text-anchor="middle" font-weight="normal" fill="#111" stroke="#111" stroke-width="0.3">Rank in Ordered Dataset</text>
<text x="1533.9" y="1041.55" font-size="14.7" text-anchor="middle" font-weight="normal" fill="#111" stroke="#111" stroke-width="0.3" transform="rotate(-90 1533.9 1041.55)">Enrichment Score</text>
<text x="1545.6" y="1251.5" font-size="14.7" text-anchor="middle" font-weight="normal" fill="#111" stroke="#111" stroke-width="0.3" transform="rotate(-90 1545.6 1251.5)">Ranked list metric</text>
</svg>
</body></html>
